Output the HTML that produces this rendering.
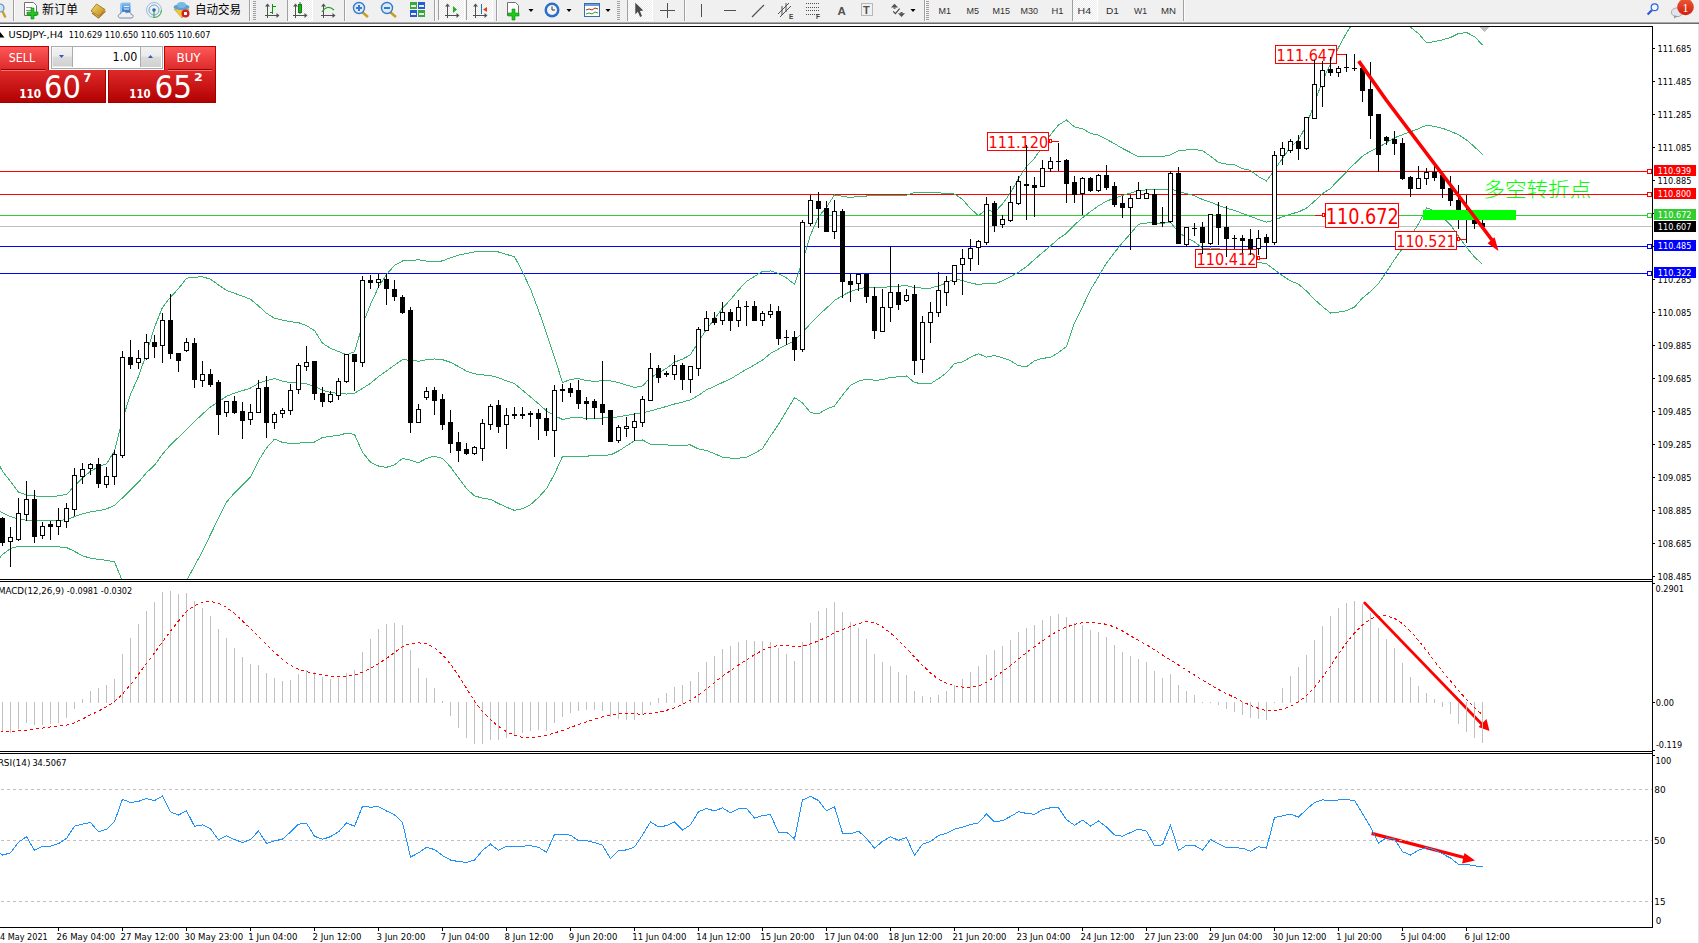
<!DOCTYPE html>
<html><head><meta charset="utf-8"><title>USDJPY,H4</title><style>html,body{margin:0;padding:0;background:#fff;overflow:hidden}body{width:1699px;height:943px}svg{display:block}</style></head><body>
<svg width="1699" height="943" viewBox="0 0 1699 943" font-family="Liberation Sans, sans-serif">
<defs><clipPath id="cmain"><rect x="0" y="27" width="1652" height="552"/></clipPath><clipPath id="cmacd"><rect x="0" y="582" width="1652" height="169"/></clipPath><clipPath id="crsi"><rect x="0" y="754" width="1652" height="173"/></clipPath></defs>
<rect x="0" y="24" width="1699" height="919" fill="#fff" />
<rect x="1698" y="24" width="1" height="919" fill="#e3e3e3" />
<defs><linearGradient id="gsell" x1="0" y1="0" x2="0" y2="1"><stop offset="0" stop-color="#ff5a5a"/><stop offset="1" stop-color="#dc2828"/></linearGradient><linearGradient id="gprice" x1="0" y1="0" x2="0" y2="1"><stop offset="0" stop-color="#e02a2a"/><stop offset="1" stop-color="#b00000"/></linearGradient><linearGradient id="gbtn" x1="0" y1="0" x2="0" y2="1"><stop offset="0" stop-color="#f2f2f2"/><stop offset="0.45" stop-color="#ebebeb"/><stop offset="0.5" stop-color="#dcdcdc"/><stop offset="1" stop-color="#d0d0d0"/></linearGradient><linearGradient id="gblue" x1="0" y1="0" x2="0" y2="1"><stop offset="0" stop-color="#8ec8f0"/><stop offset="1" stop-color="#2a6fc9"/></linearGradient><linearGradient id="ggold" x1="0" y1="0" x2="1" y2="1"><stop offset="0" stop-color="#f8dc6a"/><stop offset="1" stop-color="#b8861a"/></linearGradient><pattern id="chk" x="0" y="0" width="2" height="2" patternUnits="userSpaceOnUse"><rect width="2" height="2" fill="#ececec"/><rect width="1" height="1" fill="#ffffff"/><rect x="1" y="1" width="1" height="1" fill="#ffffff"/></pattern></defs>
<rect x="0" y="0" width="1699" height="22" fill="#f0f0f0" />
<rect x="0" y="22" width="1699" height="1" fill="#a8a8a8" />
<rect x="0" y="23" width="1699" height="1" fill="#6d6d6d" />
<g shape-rendering="crispEdges">
<rect x="13" y="0" width="1" height="21" fill="#a0a0a0" />
<rect x="14" y="0" width="1" height="21" fill="#fcfcfc" />
<rect x="249" y="0" width="1" height="21" fill="#a0a0a0" />
<rect x="250" y="0" width="1" height="21" fill="#fcfcfc" />
<rect x="287" y="0" width="1" height="21" fill="#a0a0a0" />
<rect x="288" y="0" width="1" height="21" fill="#fcfcfc" />
<rect x="344" y="0" width="1" height="21" fill="#a0a0a0" />
<rect x="345" y="0" width="1" height="21" fill="#fcfcfc" />
<rect x="434" y="0" width="1" height="21" fill="#a0a0a0" />
<rect x="435" y="0" width="1" height="21" fill="#fcfcfc" />
<rect x="496" y="0" width="1" height="21" fill="#a0a0a0" />
<rect x="497" y="0" width="1" height="21" fill="#fcfcfc" />
<rect x="627" y="0" width="1" height="21" fill="#a0a0a0" />
<rect x="628" y="0" width="1" height="21" fill="#fcfcfc" />
<rect x="684" y="0" width="1" height="21" fill="#a0a0a0" />
<rect x="685" y="0" width="1" height="21" fill="#fcfcfc" />
<rect x="924" y="0" width="1" height="21" fill="#a0a0a0" />
<rect x="925" y="0" width="1" height="21" fill="#fcfcfc" />
<rect x="1072" y="0" width="1" height="21" fill="#a0a0a0" />
<rect x="1073" y="0" width="1" height="21" fill="#fcfcfc" />
<rect x="1183" y="0" width="1" height="21" fill="#a0a0a0" />
<rect x="1184" y="0" width="1" height="21" fill="#fcfcfc" />
<rect x="288" y="0" width="24" height="20" fill="url(#chk)" />
<rect x="288" y="20" width="25" height="1" fill="#ffffff" />
<rect x="312" y="0" width="1" height="21" fill="#ffffff" />
<rect x="287" y="0" width="1" height="20" fill="#a0a0a0" />
<rect x="439" y="0" width="25" height="20" fill="url(#chk)" />
<rect x="439" y="20" width="26" height="1" fill="#ffffff" />
<rect x="464" y="0" width="1" height="21" fill="#ffffff" />
<rect x="438" y="0" width="1" height="20" fill="#a0a0a0" />
<rect x="467" y="0" width="25" height="20" fill="url(#chk)" />
<rect x="467" y="20" width="26" height="1" fill="#ffffff" />
<rect x="492" y="0" width="1" height="21" fill="#ffffff" />
<rect x="466" y="0" width="1" height="20" fill="#a0a0a0" />
<rect x="628" y="0" width="24" height="20" fill="url(#chk)" />
<rect x="628" y="20" width="25" height="1" fill="#ffffff" />
<rect x="652" y="0" width="1" height="21" fill="#ffffff" />
<rect x="627" y="0" width="1" height="20" fill="#a0a0a0" />
<rect x="1073" y="0" width="24" height="20" fill="url(#chk)" />
<rect x="1073" y="20" width="25" height="1" fill="#ffffff" />
<rect x="1097" y="0" width="1" height="21" fill="#ffffff" />
<rect x="1072" y="0" width="1" height="20" fill="#a0a0a0" />
<rect x="253" y="1" width="3" height="1" fill="#a0a0a0" />
<rect x="253" y="3" width="3" height="1" fill="#a0a0a0" />
<rect x="253" y="5" width="3" height="1" fill="#a0a0a0" />
<rect x="253" y="7" width="3" height="1" fill="#a0a0a0" />
<rect x="253" y="9" width="3" height="1" fill="#a0a0a0" />
<rect x="253" y="11" width="3" height="1" fill="#a0a0a0" />
<rect x="253" y="13" width="3" height="1" fill="#a0a0a0" />
<rect x="253" y="15" width="3" height="1" fill="#a0a0a0" />
<rect x="253" y="17" width="3" height="1" fill="#a0a0a0" />
<rect x="253" y="19" width="3" height="1" fill="#a0a0a0" />
<rect x="617" y="1" width="3" height="1" fill="#a0a0a0" />
<rect x="617" y="3" width="3" height="1" fill="#a0a0a0" />
<rect x="617" y="5" width="3" height="1" fill="#a0a0a0" />
<rect x="617" y="7" width="3" height="1" fill="#a0a0a0" />
<rect x="617" y="9" width="3" height="1" fill="#a0a0a0" />
<rect x="617" y="11" width="3" height="1" fill="#a0a0a0" />
<rect x="617" y="13" width="3" height="1" fill="#a0a0a0" />
<rect x="617" y="15" width="3" height="1" fill="#a0a0a0" />
<rect x="617" y="17" width="3" height="1" fill="#a0a0a0" />
<rect x="617" y="19" width="3" height="1" fill="#a0a0a0" />
<rect x="926" y="1" width="3" height="1" fill="#a0a0a0" />
<rect x="926" y="3" width="3" height="1" fill="#a0a0a0" />
<rect x="926" y="5" width="3" height="1" fill="#a0a0a0" />
<rect x="926" y="7" width="3" height="1" fill="#a0a0a0" />
<rect x="926" y="9" width="3" height="1" fill="#a0a0a0" />
<rect x="926" y="11" width="3" height="1" fill="#a0a0a0" />
<rect x="926" y="13" width="3" height="1" fill="#a0a0a0" />
<rect x="926" y="15" width="3" height="1" fill="#a0a0a0" />
<rect x="926" y="17" width="3" height="1" fill="#a0a0a0" />
<rect x="926" y="19" width="3" height="1" fill="#a0a0a0" />
</g>
<circle cx="0" cy="8" r="4" fill="#cfe3f5" stroke="#5a8fc8" stroke-width="1.2"/>
<line x1="2.5" y1="11.5" x2="5.5" y2="17.5" stroke="#c8a020" stroke-width="2.4"/>
<path d="M24.5,2.5 h9 l3,3 v10 h-12 z" fill="#fff" stroke="#707070" stroke-width="1"/>
<g stroke="#909090" stroke-width="1"><line x1="26" y1="7.5" x2="32" y2="7.5"/><line x1="26" y1="10.5" x2="31" y2="10.5"/></g>
<path d="M31,8 h3 v4 h4 v3 h-4 v4 h-3 v-4 h-4 v-3 h4 z" fill="#1ec81e" stroke="#0a8a0a" stroke-width="0.6"/>
<text x="42" y="14" font-size="12" font-family="Liberation Sans, Noto Sans CJK SC, sans-serif" fill="#000" textLength="36" lengthAdjust="spacingAndGlyphs">新订单</text>
<path d="M91,11 L96.5,4 L105,9.5 L99,16.5 Z" fill="url(#ggold)" stroke="#9a6a10" stroke-width="0.8"/>
<path d="M92,13 L98.5,18 L105.5,11" fill="none" stroke="#a8741a" stroke-width="1.2"/>
<polygon points="120,4 122,2.5 122,12 120,13" fill="#8cc8f8"/>
<rect x="122" y="2.5" width="8.5" height="10" fill="url(#gblue)"/>
<rect x="124" y="6" width="5" height="1" fill="#e8f2fc"/><rect x="124" y="8.5" width="5" height="1" fill="#e8f2fc"/>
<path d="M120.5,18 C117.5,18 117.5,14 120.5,14 C120.5,11 125.5,10.5 126.5,13 C128,11.5 131.5,12.5 131,14.5 C134,14.5 134,18 131,18 Z" fill="#eef2f8" stroke="#6f7f9c" stroke-width="0.9"/>
<circle cx="154" cy="10" r="7.5" fill="none" stroke="#7fb0e0" stroke-width="0.8"/>
<circle cx="154" cy="10" r="5" fill="none" stroke="#4a90d8" stroke-width="0.8"/>
<path d="M154,17.5 A7.5,7.5 0 0 0 161.5,10" fill="none" stroke="#5cb85c" stroke-width="1.2"/>
<circle cx="154" cy="10" r="1.8" fill="#2060c0"/><line x1="154" y1="10" x2="154" y2="18" stroke="#20a020" stroke-width="1"/>
<path d="M174,9 L182,18 L189,9 Z" fill="#f0c830" stroke="#b09020" stroke-width="0.6"/>
<ellipse cx="181.5" cy="7" rx="8" ry="3" fill="#5aa0d8"/><ellipse cx="181.5" cy="5" rx="4.5" ry="3" fill="#7ab8e8"/>
<circle cx="185.5" cy="13.5" r="4" fill="#d42020"/><rect x="184" y="12" width="3" height="3" fill="#fff"/>
<text x="195" y="14" font-size="12" font-family="Liberation Sans, Noto Sans CJK SC, sans-serif" fill="#000" textLength="46" lengthAdjust="spacingAndGlyphs">自动交易</text>
<g stroke="#505050" stroke-width="1" shape-rendering="crispEdges"><line x1="267.5" y1="4" x2="267.5" y2="18"/><line x1="265" y1="15.5" x2="278" y2="15.5"/></g>
<polygon points="267.5,3.5 265,6.5 270,6.5" fill="#505050"/><polygon points="279.5,15.5 276.5,13 276.5,18" fill="#505050"/>
<g stroke="#109010" stroke-width="1" shape-rendering="crispEdges"><line x1="272.5" y1="3.5" x2="272.5" y2="13.5"/><line x1="269.5" y1="12.5" x2="272" y2="12.5"/><line x1="273" y1="6.5" x2="276" y2="6.5"/></g>
<g stroke="#505050" stroke-width="1" shape-rendering="crispEdges"><line x1="295.5" y1="4" x2="295.5" y2="18"/><line x1="293" y1="15.5" x2="306" y2="15.5"/></g>
<polygon points="295.5,3.5 293,6.5 298,6.5" fill="#505050"/><polygon points="307.5,15.5 304.5,13 304.5,18" fill="#505050"/>
<rect x="298.5" y="4.5" width="3" height="8" fill="#30d030" stroke="#108010" stroke-width="1" shape-rendering="crispEdges"/><line x1="300" y1="2" x2="300" y2="14" stroke="#108010" stroke-width="1"/>
<g stroke="#505050" stroke-width="1" shape-rendering="crispEdges"><line x1="323.5" y1="4" x2="323.5" y2="18"/><line x1="321" y1="15.5" x2="334" y2="15.5"/></g>
<polygon points="323.5,3.5 321,6.5 326,6.5" fill="#505050"/><polygon points="335.5,15.5 332.5,13 332.5,18" fill="#505050"/>
<path d="M322,12 Q327,4 334,10" fill="none" stroke="#20a020" stroke-width="1.2"/>
<line x1="362" y1="12" x2="368" y2="17" stroke="#c8a020" stroke-width="2.6"/>
<circle cx="359" cy="8" r="5.5" fill="#d8ecfa" stroke="#3a78c8" stroke-width="1.4"/>
<rect x="356" y="7" width="6" height="2" fill="#3a78c8"/>
<rect x="358" y="5" width="2" height="6" fill="#3a78c8"/>
<line x1="390" y1="12" x2="396" y2="17" stroke="#c8a020" stroke-width="2.6"/>
<circle cx="387" cy="8" r="5.5" fill="#d8ecfa" stroke="#3a78c8" stroke-width="1.4"/>
<rect x="384" y="7" width="6" height="2" fill="#3a78c8"/>
<g shape-rendering="crispEdges"><rect x="410" y="2" width="7" height="7" fill="#3aa83a"/><rect x="418" y="2" width="7" height="7" fill="#2a5ad0"/><rect x="410" y="10" width="7" height="7" fill="#2a5ad0"/><rect x="418" y="10" width="7" height="7" fill="#3aa83a"/><rect x="411" y="5" width="5" height="2" fill="#e8f4e8"/><rect x="419" y="5" width="5" height="2" fill="#e8eef8"/><rect x="411" y="13" width="5" height="2" fill="#e8eef8"/><rect x="419" y="13" width="5" height="2" fill="#e8f4e8"/></g>
<g stroke="#505050" stroke-width="1" shape-rendering="crispEdges"><line x1="447.5" y1="4" x2="447.5" y2="18"/><line x1="445" y1="15.5" x2="458" y2="15.5"/></g>
<polygon points="447.5,3.5 445,6.5 450,6.5" fill="#505050"/><polygon points="459.5,15.5 456.5,13 456.5,18" fill="#505050"/>
<polygon points="453,6 457,9.5 453,13" fill="#20b020"/>
<g stroke="#505050" stroke-width="1" shape-rendering="crispEdges"><line x1="475.5" y1="4" x2="475.5" y2="18"/><line x1="473" y1="15.5" x2="486" y2="15.5"/></g>
<polygon points="475.5,3.5 473,6.5 478,6.5" fill="#505050"/><polygon points="487.5,15.5 484.5,13 484.5,18" fill="#505050"/>
<line x1="481.5" y1="4" x2="481.5" y2="14" stroke="#2070c0" stroke-width="1"/><polygon points="483,9.5 487,7 487,12" fill="#e04010"/>
<path d="M507.5,2.5 h8 l3,3 v10 h-11 z" fill="#fff" stroke="#707070" stroke-width="1"/>
<path d="M512,9 h3 v4 h4 v3 h-4 v4 h-3 v-4 h-4 v-3 h4 z" fill="#1ec81e" stroke="#0a8a0a" stroke-width="0.6"/>
<polygon points="528.5,9 533.5,9 531,12" fill="#000"/>
<polygon points="566.5,9 571.5,9 569,12" fill="#000"/>
<polygon points="605.5,9 610.5,9 608,12" fill="#000"/>
<circle cx="552" cy="10" r="7.5" fill="#2a6fc9"/><circle cx="552" cy="10" r="5" fill="#f4f4f4"/><path d="M552,6.5 V10 H555" fill="none" stroke="#333" stroke-width="1"/>
<rect x="584.5" y="3.5" width="15" height="13" fill="#fff" stroke="#3a6ab0" stroke-width="1"/><rect x="585" y="4" width="14" height="2" fill="#6a9ad8"/>
<polyline points="586,10 589,9 592,10 595,8 598,9" fill="none" stroke="#b03020" stroke-width="1"/><polyline points="586,14 589,13 592,14 595,12 598,13" fill="none" stroke="#30a030" stroke-width="1"/>
<polygon points="635.3,2.8 643.3,10.6 639.9,10.9 642,15.9 640.1,16.9 637.9,11.8 635.3,14.2" fill="#4a4a4a"/>
<g shape-rendering="crispEdges" fill="#505050"><rect x="667" y="3" width="1" height="15"/><rect x="660" y="10" width="15" height="1"/></g>
<g shape-rendering="crispEdges" fill="#505050"><rect x="701" y="4" width="1" height="13"/><rect x="724" y="10" width="12" height="1"/></g>
<line x1="752" y1="17" x2="764" y2="5" stroke="#505050" stroke-width="1.2"/>
<g stroke="#505050" stroke-width="1"><line x1="778" y1="14" x2="789" y2="3"/><line x1="780" y1="17" x2="791" y2="6"/><line x1="782" y1="6" x2="782" y2="15"/><line x1="786" y1="3" x2="786" y2="12"/></g>
<text x="789" y="19" font-size="6.5" font-weight="bold" fill="#404040" font-family="Liberation Sans, sans-serif">E</text>
<g fill="#505050" shape-rendering="crispEdges"><rect x="806" y="3" width="1" height="1"/><rect x="808" y="3" width="1" height="1"/><rect x="810" y="3" width="1" height="1"/><rect x="812" y="3" width="1" height="1"/><rect x="814" y="3" width="1" height="1"/><rect x="816" y="3" width="1" height="1"/><rect x="818" y="3" width="1" height="1"/><rect x="806" y="7" width="1" height="1"/><rect x="808" y="7" width="1" height="1"/><rect x="810" y="7" width="1" height="1"/><rect x="812" y="7" width="1" height="1"/><rect x="814" y="7" width="1" height="1"/><rect x="816" y="7" width="1" height="1"/><rect x="818" y="7" width="1" height="1"/><rect x="806" y="10" width="1" height="1"/><rect x="808" y="10" width="1" height="1"/><rect x="810" y="10" width="1" height="1"/><rect x="812" y="10" width="1" height="1"/><rect x="814" y="10" width="1" height="1"/><rect x="816" y="10" width="1" height="1"/><rect x="818" y="10" width="1" height="1"/><rect x="806" y="14" width="1" height="1"/><rect x="808" y="14" width="1" height="1"/><rect x="810" y="14" width="1" height="1"/><rect x="812" y="14" width="1" height="1"/><rect x="814" y="14" width="1" height="1"/><rect x="816" y="14" width="1" height="1"/><rect x="818" y="14" width="1" height="1"/></g>
<text x="816" y="19" font-size="6.5" font-weight="bold" fill="#404040" font-family="Liberation Sans, sans-serif">F</text>
<text x="837.5" y="15" font-size="11.5" font-weight="bold" fill="#505050" font-family="Liberation Sans, sans-serif">A</text>
<rect x="861.5" y="3.5" width="11" height="12" fill="none" stroke="#808080" stroke-width="1" stroke-dasharray="1,1"/>
<text x="863" y="14" font-size="11" font-weight="bold" fill="#505050" font-family="Liberation Sans, sans-serif">T</text>
<polygon points="894.5,3.8 891,7.6 898,7.6" fill="#505050"/><rect x="893.5" y="7.5" width="2" height="1.3" fill="#505050"/>
<polyline points="893.2,11.3 895.4,13.6 899.6,8.7" fill="none" stroke="#404040" stroke-width="1.1"/>
<polygon points="898,13.2 905,13.2 901.5,17" fill="#505050"/><rect x="900.5" y="12" width="2" height="1.3" fill="#505050"/>
<polygon points="910.5,9 915.5,9 913,12" fill="#000"/>
<text x="938.5" y="14" font-size="9.6" fill="#303030" font-family="Liberation Sans, sans-serif" textLength="12.5" lengthAdjust="spacingAndGlyphs">M1</text>
<text x="966.5" y="14" font-size="9.6" fill="#303030" font-family="Liberation Sans, sans-serif" textLength="12.5" lengthAdjust="spacingAndGlyphs">M5</text>
<text x="992.5" y="14" font-size="9.6" fill="#303030" font-family="Liberation Sans, sans-serif" textLength="17.5" lengthAdjust="spacingAndGlyphs">M15</text>
<text x="1020.5" y="14" font-size="9.6" fill="#303030" font-family="Liberation Sans, sans-serif" textLength="17.5" lengthAdjust="spacingAndGlyphs">M30</text>
<text x="1051.5" y="14" font-size="9.6" fill="#303030" font-family="Liberation Sans, sans-serif" textLength="12.0" lengthAdjust="spacingAndGlyphs">H1</text>
<text x="1077.5" y="14" font-size="9.6" fill="#303030" font-family="Liberation Sans, sans-serif" textLength="13.5" lengthAdjust="spacingAndGlyphs">H4</text>
<text x="1106" y="14" font-size="9.6" fill="#303030" font-family="Liberation Sans, sans-serif" textLength="13" lengthAdjust="spacingAndGlyphs">D1</text>
<text x="1134" y="14" font-size="9.6" fill="#303030" font-family="Liberation Sans, sans-serif" textLength="13" lengthAdjust="spacingAndGlyphs">W1</text>
<text x="1161" y="14" font-size="9.6" fill="#303030" font-family="Liberation Sans, sans-serif" textLength="15" lengthAdjust="spacingAndGlyphs">MN</text>
<circle cx="1654.6" cy="7.3" r="3.4" fill="#f4f4ff" stroke="#2a64d0" stroke-width="1.2"/><line x1="1651.8" y1="10.2" x2="1647.6" y2="14.6" stroke="#2a5cd0" stroke-width="2.2"/>
<ellipse cx="1677" cy="12.3" rx="5.6" ry="4.4" fill="#e2e4ee" stroke="#a0a0a0" stroke-width="0.9"/><polygon points="1674.5,15.5 1674,18.8 1677.5,16" fill="#909090"/>
<defs><linearGradient id="gbadge" x1="0" y1="0" x2="0" y2="1"><stop offset="0" stop-color="#ec5a34"/><stop offset="1" stop-color="#d41c0c"/></linearGradient></defs>
<circle cx="1685.5" cy="7" r="8.3" fill="url(#gbadge)"/>
<text x="1685.6" y="12" font-size="12" fill="#fff" text-anchor="middle" font-family="Liberation Serif, serif">1</text>
<text x="1483.3" y="196.8" fill="#00ff00" font-size="20" font-family="Noto Sans CJK SC, sans-serif" textLength="108" lengthAdjust="spacingAndGlyphs" font-weight="300">多空转折点</text>
<g shape-rendering="crispEdges">
<rect x="0" y="226" width="1652" height="1" fill="#c0c0c0" />
<rect x="0" y="171" width="1647" height="1" fill="#ff0000" />
<rect x="1647.5" y="169.5" width="4" height="4" fill="#fff" stroke="#ff0000" stroke-width="1"/>
<rect x="0" y="194" width="1647" height="1" fill="#ff0000" />
<rect x="1647.5" y="192.5" width="4" height="4" fill="#fff" stroke="#ff0000" stroke-width="1"/>
<rect x="0" y="215" width="1647" height="1" fill="#32cd32" />
<rect x="1647.5" y="213.5" width="4" height="4" fill="#fff" stroke="#32cd32" stroke-width="1"/>
<rect x="0" y="246" width="1647" height="1" fill="#0000ff" />
<rect x="1647.5" y="244.5" width="4" height="4" fill="#fff" stroke="#0000ff" stroke-width="1"/>
<rect x="0" y="273" width="1647" height="1" fill="#0000ff" />
<rect x="1647.5" y="271.5" width="4" height="4" fill="#fff" stroke="#0000ff" stroke-width="1"/>
</g>
<g clip-path="url(#cmain)" shape-rendering="crispEdges">
<polyline points="-5.50,456.40 2.50,471.20 10.50,481.50 18.50,492.00 26.50,495.00 34.50,495.90 42.50,496.50 50.50,496.50 58.50,495.90 66.50,494.40 74.50,486.10 82.50,478.00 90.50,471.20 98.50,466.80 106.50,463.80 114.50,451.00 122.50,419.50 130.50,394.50 138.50,376.50 146.50,353.50 154.50,327.25 162.50,307.36 170.50,297.15 178.50,288.65 186.50,278.21 194.50,277.25 202.50,276.71 210.50,279.27 218.50,284.95 226.50,290.39 234.50,293.28 242.50,296.19 250.50,299.16 258.50,305.91 266.50,313.31 274.50,318.15 282.50,320.10 290.50,321.78 298.50,322.61 306.50,325.69 314.50,330.53 322.50,343.18 330.50,348.35 338.50,351.55 346.50,354.82 354.50,351.86 362.50,324.53 370.50,304.46 378.50,287.14 386.50,274.50 394.50,265.50 402.50,260.98 410.50,260.35 418.50,259.81 426.50,261.11 434.50,261.82 442.50,260.89 450.50,257.73 458.50,255.18 466.50,253.52 474.50,251.86 482.50,251.58 490.50,251.69 498.50,251.98 506.50,254.47 514.50,256.63 522.50,271.95 530.50,289.07 538.50,310.19 546.50,333.16 554.50,357.15 562.50,382.67 570.50,379.33 578.50,378.65 586.50,380.50 594.50,381.35 602.50,380.74 610.50,380.90 618.50,382.47 626.50,385.06 634.50,387.42 642.50,385.86 650.50,377.77 658.50,373.08 666.50,368.24 674.50,362.07 682.50,359.25 690.50,354.63 698.50,341.79 706.50,329.17 714.50,319.05 722.50,307.95 730.50,299.74 738.50,290.00 746.50,281.38 754.50,276.34 762.50,271.49 770.50,270.95 778.50,273.63 786.50,278.00 794.50,284.38 802.50,261.41 810.50,234.83 818.50,216.95 826.50,207.25 834.50,194.90 842.50,196.19 850.50,197.52 858.50,196.19 866.50,196.01 874.50,195.71 882.50,195.71 890.50,195.49 898.50,195.46 906.50,195.27 914.50,192.64 922.50,192.52 930.50,192.52 938.50,192.90 946.50,193.20 954.50,194.10 962.50,199.29 970.50,208.61 978.50,215.61 986.50,209.40 994.50,212.45 1002.50,204.04 1010.50,192.87 1018.50,178.58 1026.50,166.58 1034.50,158.31 1042.50,146.63 1050.50,134.63 1058.50,124.98 1066.50,120.00 1074.50,126.88 1082.50,128.69 1090.50,133.38 1098.50,135.15 1106.50,139.29 1114.50,143.69 1122.50,148.48 1130.50,152.55 1138.50,156.73 1146.50,156.79 1154.50,156.91 1162.50,156.57 1170.50,154.95 1178.50,150.64 1186.50,149.94 1194.50,149.54 1202.50,150.64 1210.50,156.24 1218.50,162.41 1226.50,164.13 1234.50,164.88 1242.50,168.66 1250.50,170.43 1258.50,176.62 1266.50,180.93 1274.50,169.83 1282.50,158.23 1290.50,147.20 1298.50,139.77 1306.50,125.29 1314.50,102.94 1322.50,80.74 1330.50,64.01 1338.50,47.56 1346.50,32.91 1354.50,20.54 1362.50,14.29 1370.50,10.89 1378.50,11.60 1386.50,13.27 1394.50,16.25 1402.50,20.80 1410.50,27.08 1418.50,33.57 1426.50,42.68 1434.50,41.67 1442.50,39.83 1450.50,37.47 1458.50,33.55 1466.50,32.49 1474.50,36.61 1482.50,44.98" fill="none" stroke="#3cb371" stroke-width="1" />
<polyline points="-5.50,508.80 2.50,512.80 10.50,516.60 18.50,519.30 26.50,520.20 34.50,520.80 42.50,520.80 50.50,520.80 58.50,520.50 66.50,519.60 74.50,516.60 82.50,513.70 90.50,511.90 98.50,510.70 106.50,508.90 114.50,505.40 122.50,497.90 130.50,489.90 138.50,482.20 146.50,472.70 154.50,465.25 162.50,454.15 170.50,444.95 178.50,437.30 186.50,429.45 194.50,421.60 202.50,414.00 210.50,406.90 218.50,401.60 226.50,396.25 234.50,393.10 242.50,390.65 250.50,388.07 258.50,383.32 266.50,380.61 274.50,378.63 282.50,381.28 290.50,382.58 298.50,382.93 306.50,383.93 314.50,386.28 322.50,390.33 330.50,392.38 338.50,393.43 346.50,394.03 354.50,393.13 362.50,388.43 370.50,383.33 378.50,376.58 386.50,370.93 394.50,365.13 402.50,359.73 410.50,360.21 418.50,361.25 426.50,359.73 434.50,359.00 442.50,359.68 450.50,362.31 458.50,366.54 466.50,371.07 474.50,373.79 482.50,374.90 490.50,375.52 498.50,377.75 506.50,380.82 514.50,383.52 522.50,390.27 530.50,396.88 538.50,403.81 546.50,410.90 554.50,415.61 562.50,419.51 570.50,418.00 578.50,417.69 586.50,418.27 594.50,418.61 602.50,418.01 610.50,417.91 618.50,416.79 626.50,415.45 634.50,414.13 642.50,412.92 650.50,411.00 658.50,408.57 666.50,406.50 674.50,404.00 682.50,402.18 690.50,399.80 698.50,395.38 706.50,389.81 714.50,386.39 722.50,382.50 730.50,378.90 738.50,374.11 746.50,369.27 754.50,364.92 762.50,359.99 770.50,353.50 778.50,349.03 786.50,344.58 794.50,340.97 802.50,332.12 810.50,323.74 818.50,315.31 826.50,308.16 834.50,300.47 842.50,295.61 850.50,291.48 858.50,288.71 866.50,287.56 874.50,287.99 882.50,287.75 890.50,286.36 898.50,286.19 906.50,285.62 914.50,287.64 922.50,288.09 930.50,288.15 938.50,285.77 946.50,282.98 954.50,278.81 962.50,280.62 970.50,282.98 978.50,284.62 986.50,283.29 994.50,283.96 1002.50,280.86 1010.50,276.79 1018.50,272.17 1026.50,266.65 1034.50,259.49 1042.50,252.53 1050.50,245.97 1058.50,238.82 1066.50,233.22 1074.50,224.93 1082.50,217.73 1090.50,211.62 1098.50,205.88 1106.50,201.16 1114.50,198.09 1122.50,195.52 1130.50,193.05 1138.50,190.45 1146.50,189.91 1154.50,189.87 1162.50,189.99 1170.50,188.53 1178.50,191.59 1186.50,193.68 1194.50,195.75 1202.50,199.45 1210.50,202.12 1218.50,205.42 1226.50,208.21 1234.50,210.43 1242.50,213.49 1250.50,216.37 1258.50,219.53 1266.50,222.26 1274.50,219.83 1282.50,216.91 1290.50,214.07 1298.50,211.97 1306.50,208.16 1314.50,201.19 1322.50,193.62 1330.50,188.54 1338.50,179.81 1346.50,171.81 1354.50,163.80 1362.50,156.15 1370.50,151.19 1378.50,147.53 1386.50,142.59 1394.50,137.80 1402.50,134.72 1410.50,131.76 1418.50,128.72 1426.50,125.22 1434.50,126.28 1442.50,128.28 1450.50,131.19 1458.50,134.79 1466.50,139.90 1474.50,146.84 1482.50,154.65" fill="none" stroke="#3cb371" stroke-width="1" />
<polyline points="-5.50,564.80 2.50,554.40 10.50,548.40 18.50,546.30 26.50,546.30 34.50,546.30 42.50,546.50 50.50,546.50 58.50,546.90 66.50,547.50 74.50,551.40 82.50,555.80 90.50,558.20 98.50,559.40 106.50,560.30 114.50,561.80 122.50,581.50 130.50,590.50 138.50,598.50 146.50,604.50 154.50,603.25 162.50,600.94 170.50,592.75 178.50,585.95 186.50,580.69 194.50,565.95 202.50,551.29 210.50,534.53 218.50,518.25 226.50,502.11 234.50,492.92 242.50,485.11 250.50,476.99 258.50,460.74 266.50,447.90 274.50,439.11 282.50,442.46 290.50,443.38 298.50,443.25 306.50,442.17 314.50,442.03 322.50,437.48 330.50,436.41 338.50,435.31 346.50,433.24 354.50,434.40 362.50,452.33 370.50,462.20 378.50,466.02 386.50,467.36 394.50,464.76 402.50,458.48 410.50,460.06 418.50,462.70 426.50,458.34 434.50,456.18 442.50,458.47 450.50,466.90 458.50,477.90 466.50,488.63 474.50,495.73 482.50,498.23 490.50,499.35 498.50,503.53 506.50,507.18 514.50,510.42 522.50,508.60 530.50,504.68 538.50,497.43 546.50,488.64 554.50,474.08 562.50,456.36 570.50,456.67 578.50,456.73 586.50,456.05 594.50,455.87 602.50,455.28 610.50,454.92 618.50,451.10 626.50,445.84 634.50,440.84 642.50,439.98 650.50,444.24 658.50,444.06 666.50,444.76 674.50,445.93 682.50,445.11 690.50,444.96 698.50,448.97 706.50,450.44 714.50,453.73 722.50,457.05 730.50,458.05 738.50,458.21 746.50,457.16 754.50,453.49 762.50,448.48 770.50,436.05 778.50,424.44 786.50,411.17 794.50,397.55 802.50,402.84 810.50,412.65 818.50,413.68 826.50,409.06 834.50,406.04 842.50,395.02 850.50,385.43 858.50,381.22 866.50,379.12 874.50,380.26 882.50,379.78 890.50,377.24 898.50,376.92 906.50,375.98 914.50,382.63 922.50,383.65 930.50,383.78 938.50,378.63 946.50,372.76 954.50,363.52 962.50,361.94 970.50,357.34 978.50,353.63 986.50,357.19 994.50,355.47 1002.50,357.67 1010.50,360.72 1018.50,365.75 1026.50,366.73 1034.50,360.66 1042.50,358.44 1050.50,357.30 1058.50,352.66 1066.50,346.43 1074.50,322.97 1082.50,306.78 1090.50,289.86 1098.50,276.61 1106.50,263.04 1114.50,252.50 1122.50,242.56 1130.50,233.54 1138.50,224.18 1146.50,223.03 1154.50,222.83 1162.50,223.42 1170.50,222.11 1178.50,232.54 1186.50,237.43 1194.50,241.96 1202.50,248.27 1210.50,247.99 1218.50,248.42 1226.50,252.28 1234.50,255.97 1242.50,258.32 1250.50,262.31 1258.50,262.44 1266.50,263.58 1274.50,269.84 1282.50,275.59 1290.50,280.95 1298.50,284.17 1306.50,291.03 1314.50,299.45 1322.50,306.50 1330.50,313.08 1338.50,312.07 1346.50,310.71 1354.50,307.05 1362.50,298.00 1370.50,291.49 1378.50,283.47 1386.50,271.91 1394.50,259.36 1402.50,248.65 1410.50,236.44 1418.50,223.86 1426.50,207.76 1434.50,210.89 1442.50,216.73 1450.50,224.92 1458.50,236.03 1466.50,247.31 1474.50,257.08 1482.50,264.32" fill="none" stroke="#3cb371" stroke-width="1" />
</g>
<rect x="1275.5" y="45.5" width="61" height="18" fill="#fff" stroke="#ff0000" stroke-width="1" shape-rendering="crispEdges"/>
<text x="1276.64" y="61" font-size="15.84158415841584" fill="#ff0000" textLength="59.59" lengthAdjust="spacingAndGlyphs" font-family="DejaVu Sans Condensed, sans-serif" >111.647</text>
<rect x="1337" y="54" width="9" height="1" fill="#ff0000" shape-rendering="crispEdges"/>
<rect x="987.5" y="132.5" width="61" height="18" fill="#fff" stroke="#ff0000" stroke-width="1" shape-rendering="crispEdges"/>
<text x="988.54" y="148" font-size="15.84158415841584" fill="#ff0000" textLength="59.61" lengthAdjust="spacingAndGlyphs" font-family="DejaVu Sans Condensed, sans-serif" >111.120</text>
<rect x="1049.5" y="139.5" width="2" height="3" fill="#fff" stroke="#ff0000" stroke-width="1" shape-rendering="crispEdges"/>
<rect x="1052" y="141" width="7" height="1" fill="#ff0000" shape-rendering="crispEdges"/>
<rect x="1195.5" y="249.5" width="61" height="18" fill="#fff" stroke="#ff0000" stroke-width="1" shape-rendering="crispEdges"/>
<text x="1196.43" y="265" font-size="15.84158415841584" fill="#ff0000" textLength="60.01" lengthAdjust="spacingAndGlyphs" font-family="DejaVu Sans Condensed, sans-serif" >110.412</text>
<rect x="1257.5" y="256.5" width="2" height="3" fill="#fff" stroke="#ff0000" stroke-width="1" shape-rendering="crispEdges"/>
<rect x="1260" y="258" width="6" height="1" fill="#ff0000" shape-rendering="crispEdges"/>
<rect x="1395.5" y="231.5" width="61" height="18" fill="#fff" stroke="#ff0000" stroke-width="1" shape-rendering="crispEdges"/>
<text x="1396.34" y="247" font-size="15.84158415841584" fill="#ff0000" textLength="59.36" lengthAdjust="spacingAndGlyphs" font-family="DejaVu Sans Condensed, sans-serif" >110.521</text>
<rect x="1457.5" y="237.5" width="2" height="3" fill="#fff" stroke="#ff0000" stroke-width="1" shape-rendering="crispEdges"/>
<rect x="1460" y="239" width="6" height="1" fill="#ff0000" shape-rendering="crispEdges"/>
<rect x="1325.5" y="203.5" width="73" height="24" fill="#fff" stroke="#ff0000" stroke-width="1" shape-rendering="crispEdges"/>
<text x="1325.68" y="224" font-size="21.122112211221122" fill="#ff0000" textLength="73.17" lengthAdjust="spacingAndGlyphs" font-family="DejaVu Sans Condensed, sans-serif" >110.672</text>
<rect x="1322.5" y="213.5" width="2" height="3" fill="#fff" stroke="#ff0000" stroke-width="1" shape-rendering="crispEdges"/>
<rect x="1325" y="215" width="-2" height="1" fill="#ff0000" shape-rendering="crispEdges"/>
<rect x="1315" y="215" width="8" height="1" fill="#ff0000" shape-rendering="crispEdges"/>
<g shape-rendering="crispEdges">
<rect x="2" y="517" width="1" height="29" fill="#000" />
<rect x="0" y="518" width="5" height="25" fill="#000" />
<rect x="10" y="527" width="1" height="40" fill="#000" />
<rect x="8" y="537" width="5" height="5" fill="#000" />
<rect x="9" y="538" width="3" height="3" fill="#fff" />
<rect x="18" y="498" width="1" height="43" fill="#000" />
<rect x="16" y="513" width="5" height="27" fill="#000" />
<rect x="17" y="514" width="3" height="25" fill="#fff" />
<rect x="26" y="481" width="1" height="40" fill="#000" />
<rect x="24" y="499" width="5" height="16" fill="#000" />
<rect x="25" y="500" width="3" height="14" fill="#fff" />
<rect x="34" y="490" width="1" height="53" fill="#000" />
<rect x="32" y="499" width="5" height="38" fill="#000" />
<rect x="42" y="522" width="1" height="17" fill="#000" />
<rect x="40" y="526" width="5" height="10" fill="#000" />
<rect x="41" y="527" width="3" height="8" fill="#fff" />
<rect x="50" y="521" width="1" height="19" fill="#000" />
<rect x="48" y="524" width="5" height="3" fill="#000" />
<rect x="58" y="508" width="1" height="27" fill="#000" />
<rect x="56" y="520" width="5" height="7" fill="#000" />
<rect x="57" y="521" width="3" height="5" fill="#fff" />
<rect x="66" y="503" width="1" height="25" fill="#000" />
<rect x="64" y="508" width="5" height="14" fill="#000" />
<rect x="65" y="509" width="3" height="12" fill="#fff" />
<rect x="74" y="468" width="1" height="48" fill="#000" />
<rect x="72" y="475" width="5" height="35" fill="#000" />
<rect x="73" y="476" width="3" height="33" fill="#fff" />
<rect x="82" y="463" width="1" height="21" fill="#000" />
<rect x="80" y="469" width="5" height="8" fill="#000" />
<rect x="81" y="470" width="3" height="6" fill="#fff" />
<rect x="90" y="463" width="1" height="12" fill="#000" />
<rect x="88" y="464" width="5" height="5" fill="#000" />
<rect x="89" y="465" width="3" height="3" fill="#fff" />
<rect x="98" y="458" width="1" height="30" fill="#000" />
<rect x="96" y="464" width="5" height="20" fill="#000" />
<rect x="106" y="467" width="1" height="21" fill="#000" />
<rect x="104" y="476" width="5" height="9" fill="#000" />
<rect x="105" y="477" width="3" height="7" fill="#fff" />
<rect x="114" y="450" width="1" height="35" fill="#000" />
<rect x="112" y="454" width="5" height="23" fill="#000" />
<rect x="113" y="455" width="3" height="21" fill="#fff" />
<rect x="122" y="351" width="1" height="107" fill="#000" />
<rect x="120" y="357" width="5" height="99" fill="#000" />
<rect x="121" y="358" width="3" height="97" fill="#fff" />
<rect x="130" y="340" width="1" height="29" fill="#000" />
<rect x="128" y="357" width="5" height="8" fill="#000" />
<rect x="138" y="350" width="1" height="19" fill="#000" />
<rect x="136" y="358" width="5" height="5" fill="#000" />
<rect x="137" y="359" width="3" height="3" fill="#fff" />
<rect x="146" y="334" width="1" height="26" fill="#000" />
<rect x="144" y="342" width="5" height="17" fill="#000" />
<rect x="145" y="343" width="3" height="15" fill="#fff" />
<rect x="154" y="335" width="1" height="23" fill="#000" />
<rect x="152" y="342" width="5" height="5" fill="#000" />
<rect x="162" y="313" width="1" height="50" fill="#000" />
<rect x="160" y="320" width="5" height="26" fill="#000" />
<rect x="161" y="321" width="3" height="24" fill="#fff" />
<rect x="170" y="294" width="1" height="65" fill="#000" />
<rect x="168" y="320" width="5" height="34" fill="#000" />
<rect x="178" y="353" width="1" height="19" fill="#000" />
<rect x="176" y="353" width="5" height="8" fill="#000" />
<rect x="186" y="338" width="1" height="14" fill="#000" />
<rect x="184" y="342" width="5" height="9" fill="#000" />
<rect x="185" y="343" width="3" height="7" fill="#fff" />
<rect x="194" y="338" width="1" height="50" fill="#000" />
<rect x="192" y="343" width="5" height="37" fill="#000" />
<rect x="202" y="361" width="1" height="26" fill="#000" />
<rect x="200" y="374" width="5" height="7" fill="#000" />
<rect x="201" y="375" width="3" height="5" fill="#fff" />
<rect x="210" y="369" width="1" height="18" fill="#000" />
<rect x="208" y="374" width="5" height="11" fill="#000" />
<rect x="218" y="380" width="1" height="55" fill="#000" />
<rect x="216" y="382" width="5" height="33" fill="#000" />
<rect x="226" y="401" width="1" height="16" fill="#000" />
<rect x="224" y="401" width="5" height="12" fill="#000" />
<rect x="225" y="402" width="3" height="10" fill="#fff" />
<rect x="234" y="396" width="1" height="18" fill="#000" />
<rect x="232" y="401" width="5" height="12" fill="#000" />
<rect x="242" y="402" width="1" height="37" fill="#000" />
<rect x="240" y="411" width="5" height="10" fill="#000" />
<rect x="250" y="404" width="1" height="21" fill="#000" />
<rect x="248" y="412" width="5" height="8" fill="#000" />
<rect x="249" y="413" width="3" height="6" fill="#fff" />
<rect x="258" y="380" width="1" height="33" fill="#000" />
<rect x="256" y="388" width="5" height="25" fill="#000" />
<rect x="257" y="389" width="3" height="23" fill="#fff" />
<rect x="266" y="376" width="1" height="62" fill="#000" />
<rect x="264" y="387" width="5" height="36" fill="#000" />
<rect x="274" y="412" width="1" height="17" fill="#000" />
<rect x="272" y="414" width="5" height="9" fill="#000" />
<rect x="273" y="415" width="3" height="7" fill="#fff" />
<rect x="282" y="408" width="1" height="10" fill="#000" />
<rect x="280" y="410" width="5" height="4" fill="#000" />
<rect x="281" y="411" width="3" height="2" fill="#fff" />
<rect x="290" y="384" width="1" height="31" fill="#000" />
<rect x="288" y="390" width="5" height="21" fill="#000" />
<rect x="289" y="391" width="3" height="19" fill="#fff" />
<rect x="298" y="363" width="1" height="31" fill="#000" />
<rect x="296" y="365" width="5" height="25" fill="#000" />
<rect x="297" y="366" width="3" height="23" fill="#fff" />
<rect x="306" y="346" width="1" height="25" fill="#000" />
<rect x="304" y="362" width="5" height="5" fill="#000" />
<rect x="305" y="363" width="3" height="3" fill="#fff" />
<rect x="314" y="361" width="1" height="39" fill="#000" />
<rect x="312" y="361" width="5" height="33" fill="#000" />
<rect x="322" y="387" width="1" height="20" fill="#000" />
<rect x="320" y="393" width="5" height="9" fill="#000" />
<rect x="330" y="391" width="1" height="12" fill="#000" />
<rect x="328" y="394" width="5" height="8" fill="#000" />
<rect x="329" y="395" width="3" height="6" fill="#fff" />
<rect x="338" y="378" width="1" height="22" fill="#000" />
<rect x="336" y="381" width="5" height="15" fill="#000" />
<rect x="337" y="382" width="3" height="13" fill="#fff" />
<rect x="346" y="354" width="1" height="29" fill="#000" />
<rect x="344" y="354" width="5" height="28" fill="#000" />
<rect x="345" y="355" width="3" height="26" fill="#fff" />
<rect x="354" y="354" width="1" height="37" fill="#000" />
<rect x="352" y="354" width="5" height="8" fill="#000" />
<rect x="362" y="276" width="1" height="91" fill="#000" />
<rect x="360" y="280" width="5" height="83" fill="#000" />
<rect x="361" y="281" width="3" height="81" fill="#fff" />
<rect x="370" y="275" width="1" height="14" fill="#000" />
<rect x="368" y="280" width="5" height="3" fill="#000" />
<rect x="378" y="274" width="1" height="14" fill="#000" />
<rect x="376" y="279" width="5" height="4" fill="#000" />
<rect x="377" y="280" width="3" height="2" fill="#fff" />
<rect x="386" y="274" width="1" height="31" fill="#000" />
<rect x="384" y="279" width="5" height="10" fill="#000" />
<rect x="394" y="280" width="1" height="21" fill="#000" />
<rect x="392" y="289" width="5" height="8" fill="#000" />
<rect x="402" y="295" width="1" height="19" fill="#000" />
<rect x="400" y="297" width="5" height="16" fill="#000" />
<rect x="410" y="307" width="1" height="126" fill="#000" />
<rect x="408" y="310" width="5" height="113" fill="#000" />
<rect x="418" y="404" width="1" height="19" fill="#000" />
<rect x="416" y="409" width="5" height="14" fill="#000" />
<rect x="417" y="410" width="3" height="12" fill="#fff" />
<rect x="426" y="387" width="1" height="13" fill="#000" />
<rect x="424" y="391" width="5" height="7" fill="#000" />
<rect x="425" y="392" width="3" height="5" fill="#fff" />
<rect x="434" y="387" width="1" height="28" fill="#000" />
<rect x="432" y="390" width="5" height="11" fill="#000" />
<rect x="442" y="394" width="1" height="36" fill="#000" />
<rect x="440" y="399" width="5" height="26" fill="#000" />
<rect x="450" y="410" width="1" height="43" fill="#000" />
<rect x="448" y="422" width="5" height="22" fill="#000" />
<rect x="458" y="432" width="1" height="30" fill="#000" />
<rect x="456" y="442" width="5" height="9" fill="#000" />
<rect x="466" y="443" width="1" height="12" fill="#000" />
<rect x="464" y="449" width="5" height="5" fill="#000" />
<rect x="474" y="446" width="1" height="9" fill="#000" />
<rect x="472" y="447" width="5" height="7" fill="#000" />
<rect x="473" y="448" width="3" height="5" fill="#fff" />
<rect x="482" y="419" width="1" height="42" fill="#000" />
<rect x="480" y="423" width="5" height="26" fill="#000" />
<rect x="481" y="424" width="3" height="24" fill="#fff" />
<rect x="490" y="404" width="1" height="26" fill="#000" />
<rect x="488" y="406" width="5" height="19" fill="#000" />
<rect x="489" y="407" width="3" height="17" fill="#fff" />
<rect x="498" y="400" width="1" height="33" fill="#000" />
<rect x="496" y="405" width="5" height="22" fill="#000" />
<rect x="506" y="408" width="1" height="41" fill="#000" />
<rect x="504" y="415" width="5" height="10" fill="#000" />
<rect x="505" y="416" width="3" height="8" fill="#fff" />
<rect x="514" y="407" width="1" height="12" fill="#000" />
<rect x="512" y="414" width="5" height="2" fill="#000" />
<rect x="522" y="407" width="1" height="12" fill="#000" />
<rect x="520" y="414" width="5" height="2" fill="#000" />
<rect x="530" y="411" width="1" height="16" fill="#000" />
<rect x="528" y="413" width="5" height="2" fill="#000" />
<rect x="538" y="409" width="1" height="31" fill="#000" />
<rect x="536" y="413" width="5" height="6" fill="#000" />
<rect x="546" y="408" width="1" height="28" fill="#000" />
<rect x="544" y="418" width="5" height="13" fill="#000" />
<rect x="554" y="385" width="1" height="72" fill="#000" />
<rect x="552" y="390" width="5" height="41" fill="#000" />
<rect x="553" y="391" width="3" height="39" fill="#fff" />
<rect x="562" y="384" width="1" height="18" fill="#000" />
<rect x="560" y="389" width="5" height="2" fill="#000" />
<rect x="570" y="383" width="1" height="14" fill="#000" />
<rect x="568" y="388" width="5" height="5" fill="#000" />
<rect x="578" y="380" width="1" height="29" fill="#000" />
<rect x="576" y="390" width="5" height="14" fill="#000" />
<rect x="586" y="397" width="1" height="23" fill="#000" />
<rect x="584" y="401" width="5" height="3" fill="#000" />
<rect x="594" y="399" width="1" height="20" fill="#000" />
<rect x="592" y="401" width="5" height="7" fill="#000" />
<rect x="602" y="361" width="1" height="64" fill="#000" />
<rect x="600" y="404" width="5" height="9" fill="#000" />
<rect x="610" y="410" width="1" height="32" fill="#000" />
<rect x="608" y="410" width="5" height="32" fill="#000" />
<rect x="618" y="425" width="1" height="18" fill="#000" />
<rect x="616" y="427" width="5" height="14" fill="#000" />
<rect x="617" y="428" width="3" height="12" fill="#fff" />
<rect x="626" y="417" width="1" height="20" fill="#000" />
<rect x="624" y="426" width="5" height="3" fill="#000" />
<rect x="625" y="427" width="3" height="1" fill="#fff" />
<rect x="634" y="413" width="1" height="28" fill="#000" />
<rect x="632" y="421" width="5" height="7" fill="#000" />
<rect x="633" y="422" width="3" height="5" fill="#fff" />
<rect x="642" y="396" width="1" height="31" fill="#000" />
<rect x="640" y="399" width="5" height="24" fill="#000" />
<rect x="641" y="400" width="3" height="22" fill="#fff" />
<rect x="650" y="353" width="1" height="48" fill="#000" />
<rect x="648" y="368" width="5" height="33" fill="#000" />
<rect x="649" y="369" width="3" height="31" fill="#fff" />
<rect x="658" y="365" width="1" height="18" fill="#000" />
<rect x="656" y="368" width="5" height="10" fill="#000" />
<rect x="666" y="371" width="1" height="6" fill="#000" />
<rect x="664" y="373" width="5" height="2" fill="#000" />
<rect x="674" y="355" width="1" height="25" fill="#000" />
<rect x="672" y="365" width="5" height="10" fill="#000" />
<rect x="673" y="366" width="3" height="8" fill="#fff" />
<rect x="682" y="363" width="1" height="27" fill="#000" />
<rect x="680" y="365" width="5" height="15" fill="#000" />
<rect x="690" y="366" width="1" height="27" fill="#000" />
<rect x="688" y="366" width="5" height="14" fill="#000" />
<rect x="689" y="367" width="3" height="12" fill="#fff" />
<rect x="698" y="327" width="1" height="49" fill="#000" />
<rect x="696" y="329" width="5" height="40" fill="#000" />
<rect x="697" y="330" width="3" height="38" fill="#fff" />
<rect x="706" y="311" width="1" height="20" fill="#000" />
<rect x="704" y="318" width="5" height="13" fill="#000" />
<rect x="705" y="319" width="3" height="11" fill="#fff" />
<rect x="714" y="312" width="1" height="13" fill="#000" />
<rect x="712" y="318" width="5" height="5" fill="#000" />
<rect x="722" y="302" width="1" height="23" fill="#000" />
<rect x="720" y="312" width="5" height="9" fill="#000" />
<rect x="721" y="313" width="3" height="7" fill="#fff" />
<rect x="730" y="309" width="1" height="22" fill="#000" />
<rect x="728" y="312" width="5" height="9" fill="#000" />
<rect x="738" y="300" width="1" height="27" fill="#000" />
<rect x="736" y="307" width="5" height="14" fill="#000" />
<rect x="737" y="308" width="3" height="12" fill="#fff" />
<rect x="746" y="301" width="1" height="25" fill="#000" />
<rect x="744" y="306" width="5" height="1" fill="#000" />
<rect x="754" y="301" width="1" height="20" fill="#000" />
<rect x="752" y="306" width="5" height="15" fill="#000" />
<rect x="762" y="311" width="1" height="15" fill="#000" />
<rect x="760" y="313" width="5" height="8" fill="#000" />
<rect x="761" y="314" width="3" height="6" fill="#fff" />
<rect x="770" y="304" width="1" height="14" fill="#000" />
<rect x="768" y="311" width="5" height="4" fill="#000" />
<rect x="769" y="312" width="3" height="2" fill="#fff" />
<rect x="778" y="306" width="1" height="39" fill="#000" />
<rect x="776" y="311" width="5" height="28" fill="#000" />
<rect x="786" y="330" width="1" height="15" fill="#000" />
<rect x="784" y="337" width="5" height="1" fill="#000" />
<rect x="794" y="331" width="1" height="30" fill="#000" />
<rect x="792" y="337" width="5" height="13" fill="#000" />
<rect x="802" y="220" width="1" height="132" fill="#000" />
<rect x="800" y="222" width="5" height="128" fill="#000" />
<rect x="801" y="223" width="3" height="126" fill="#fff" />
<rect x="810" y="195" width="1" height="31" fill="#000" />
<rect x="808" y="200" width="5" height="24" fill="#000" />
<rect x="809" y="201" width="3" height="22" fill="#fff" />
<rect x="818" y="192" width="1" height="36" fill="#000" />
<rect x="816" y="201" width="5" height="8" fill="#000" />
<rect x="826" y="201" width="1" height="31" fill="#000" />
<rect x="824" y="208" width="5" height="24" fill="#000" />
<rect x="834" y="200" width="1" height="39" fill="#000" />
<rect x="832" y="211" width="5" height="21" fill="#000" />
<rect x="833" y="212" width="3" height="19" fill="#fff" />
<rect x="842" y="209" width="1" height="89" fill="#000" />
<rect x="840" y="211" width="5" height="71" fill="#000" />
<rect x="850" y="274" width="1" height="28" fill="#000" />
<rect x="848" y="281" width="5" height="4" fill="#000" />
<rect x="858" y="274" width="1" height="17" fill="#000" />
<rect x="856" y="274" width="5" height="10" fill="#000" />
<rect x="857" y="275" width="3" height="8" fill="#fff" />
<rect x="866" y="274" width="1" height="29" fill="#000" />
<rect x="864" y="274" width="5" height="23" fill="#000" />
<rect x="874" y="287" width="1" height="52" fill="#000" />
<rect x="872" y="296" width="5" height="35" fill="#000" />
<rect x="882" y="289" width="1" height="43" fill="#000" />
<rect x="880" y="307" width="5" height="25" fill="#000" />
<rect x="881" y="308" width="3" height="23" fill="#fff" />
<rect x="890" y="246" width="1" height="76" fill="#000" />
<rect x="888" y="292" width="5" height="16" fill="#000" />
<rect x="889" y="293" width="3" height="14" fill="#fff" />
<rect x="898" y="284" width="1" height="26" fill="#000" />
<rect x="896" y="292" width="5" height="13" fill="#000" />
<rect x="906" y="289" width="1" height="13" fill="#000" />
<rect x="904" y="295" width="5" height="6" fill="#000" />
<rect x="905" y="296" width="3" height="4" fill="#fff" />
<rect x="914" y="285" width="1" height="90" fill="#000" />
<rect x="912" y="294" width="5" height="67" fill="#000" />
<rect x="922" y="316" width="1" height="57" fill="#000" />
<rect x="920" y="322" width="5" height="38" fill="#000" />
<rect x="921" y="323" width="3" height="36" fill="#fff" />
<rect x="930" y="302" width="1" height="41" fill="#000" />
<rect x="928" y="312" width="5" height="11" fill="#000" />
<rect x="929" y="313" width="3" height="9" fill="#fff" />
<rect x="938" y="272" width="1" height="45" fill="#000" />
<rect x="936" y="290" width="5" height="23" fill="#000" />
<rect x="937" y="291" width="3" height="21" fill="#fff" />
<rect x="946" y="276" width="1" height="30" fill="#000" />
<rect x="944" y="281" width="5" height="12" fill="#000" />
<rect x="945" y="282" width="3" height="10" fill="#fff" />
<rect x="954" y="265" width="1" height="20" fill="#000" />
<rect x="952" y="265" width="5" height="17" fill="#000" />
<rect x="953" y="266" width="3" height="15" fill="#fff" />
<rect x="962" y="249" width="1" height="46" fill="#000" />
<rect x="960" y="258" width="5" height="7" fill="#000" />
<rect x="961" y="259" width="3" height="5" fill="#fff" />
<rect x="970" y="239" width="1" height="32" fill="#000" />
<rect x="968" y="248" width="5" height="11" fill="#000" />
<rect x="969" y="249" width="3" height="9" fill="#fff" />
<rect x="978" y="240" width="1" height="25" fill="#000" />
<rect x="976" y="241" width="5" height="7" fill="#000" />
<rect x="977" y="242" width="3" height="5" fill="#fff" />
<rect x="986" y="197" width="1" height="48" fill="#000" />
<rect x="984" y="204" width="5" height="39" fill="#000" />
<rect x="985" y="205" width="3" height="37" fill="#fff" />
<rect x="994" y="201" width="1" height="31" fill="#000" />
<rect x="992" y="203" width="5" height="23" fill="#000" />
<rect x="1002" y="215" width="1" height="13" fill="#000" />
<rect x="1000" y="219" width="5" height="6" fill="#000" />
<rect x="1001" y="220" width="3" height="4" fill="#fff" />
<rect x="1010" y="186" width="1" height="36" fill="#000" />
<rect x="1008" y="202" width="5" height="19" fill="#000" />
<rect x="1009" y="203" width="3" height="17" fill="#fff" />
<rect x="1018" y="176" width="1" height="29" fill="#000" />
<rect x="1016" y="181" width="5" height="23" fill="#000" />
<rect x="1017" y="182" width="3" height="21" fill="#fff" />
<rect x="1026" y="145" width="1" height="75" fill="#000" />
<rect x="1024" y="184" width="5" height="2" fill="#000" />
<rect x="1034" y="177" width="1" height="40" fill="#000" />
<rect x="1032" y="185" width="5" height="3" fill="#000" />
<rect x="1042" y="160" width="1" height="27" fill="#000" />
<rect x="1040" y="168" width="5" height="19" fill="#000" />
<rect x="1041" y="169" width="3" height="17" fill="#fff" />
<rect x="1050" y="157" width="1" height="15" fill="#000" />
<rect x="1048" y="161" width="5" height="8" fill="#000" />
<rect x="1049" y="162" width="3" height="6" fill="#fff" />
<rect x="1058" y="143" width="1" height="28" fill="#000" />
<rect x="1056" y="161" width="5" height="1" fill="#000" />
<rect x="1066" y="159" width="1" height="44" fill="#000" />
<rect x="1064" y="160" width="5" height="24" fill="#000" />
<rect x="1074" y="176" width="1" height="27" fill="#000" />
<rect x="1072" y="182" width="5" height="13" fill="#000" />
<rect x="1082" y="177" width="1" height="38" fill="#000" />
<rect x="1080" y="178" width="5" height="16" fill="#000" />
<rect x="1081" y="179" width="3" height="14" fill="#fff" />
<rect x="1090" y="177" width="1" height="15" fill="#000" />
<rect x="1088" y="178" width="5" height="13" fill="#000" />
<rect x="1098" y="174" width="1" height="18" fill="#000" />
<rect x="1096" y="175" width="5" height="16" fill="#000" />
<rect x="1097" y="176" width="3" height="14" fill="#fff" />
<rect x="1106" y="165" width="1" height="25" fill="#000" />
<rect x="1104" y="175" width="5" height="13" fill="#000" />
<rect x="1114" y="182" width="1" height="25" fill="#000" />
<rect x="1112" y="186" width="5" height="19" fill="#000" />
<rect x="1122" y="196" width="1" height="22" fill="#000" />
<rect x="1120" y="203" width="5" height="5" fill="#000" />
<rect x="1130" y="195" width="1" height="55" fill="#000" />
<rect x="1128" y="198" width="5" height="10" fill="#000" />
<rect x="1129" y="199" width="3" height="8" fill="#fff" />
<rect x="1138" y="182" width="1" height="17" fill="#000" />
<rect x="1136" y="190" width="5" height="9" fill="#000" />
<rect x="1137" y="191" width="3" height="7" fill="#fff" />
<rect x="1146" y="189" width="1" height="10" fill="#000" />
<rect x="1144" y="193" width="5" height="6" fill="#000" />
<rect x="1145" y="194" width="3" height="4" fill="#fff" />
<rect x="1154" y="189" width="1" height="36" fill="#000" />
<rect x="1152" y="194" width="5" height="31" fill="#000" />
<rect x="1162" y="207" width="1" height="20" fill="#000" />
<rect x="1160" y="222" width="5" height="1" fill="#000" />
<rect x="1170" y="171" width="1" height="52" fill="#000" />
<rect x="1168" y="173" width="5" height="49" fill="#000" />
<rect x="1169" y="174" width="3" height="47" fill="#fff" />
<rect x="1178" y="167" width="1" height="77" fill="#000" />
<rect x="1176" y="173" width="5" height="71" fill="#000" />
<rect x="1186" y="227" width="1" height="20" fill="#000" />
<rect x="1184" y="227" width="5" height="18" fill="#000" />
<rect x="1185" y="228" width="3" height="16" fill="#fff" />
<rect x="1194" y="223" width="1" height="13" fill="#000" />
<rect x="1192" y="228" width="5" height="1" fill="#000" />
<rect x="1202" y="222" width="1" height="32" fill="#000" />
<rect x="1200" y="227" width="5" height="16" fill="#000" />
<rect x="1210" y="214" width="1" height="31" fill="#000" />
<rect x="1208" y="214" width="5" height="30" fill="#000" />
<rect x="1209" y="215" width="3" height="28" fill="#fff" />
<rect x="1218" y="202" width="1" height="43" fill="#000" />
<rect x="1216" y="214" width="5" height="14" fill="#000" />
<rect x="1226" y="206" width="1" height="51" fill="#000" />
<rect x="1224" y="227" width="5" height="12" fill="#000" />
<rect x="1234" y="235" width="1" height="14" fill="#000" />
<rect x="1232" y="238" width="5" height="1" fill="#000" />
<rect x="1242" y="235" width="1" height="18" fill="#000" />
<rect x="1240" y="238" width="5" height="3" fill="#000" />
<rect x="1250" y="229" width="1" height="26" fill="#000" />
<rect x="1248" y="239" width="5" height="10" fill="#000" />
<rect x="1258" y="230" width="1" height="25" fill="#000" />
<rect x="1256" y="238" width="5" height="11" fill="#000" />
<rect x="1257" y="239" width="3" height="9" fill="#fff" />
<rect x="1266" y="234" width="1" height="25" fill="#000" />
<rect x="1264" y="237" width="5" height="6" fill="#000" />
<rect x="1274" y="151" width="1" height="94" fill="#000" />
<rect x="1272" y="155" width="5" height="88" fill="#000" />
<rect x="1273" y="156" width="3" height="86" fill="#fff" />
<rect x="1282" y="142" width="1" height="23" fill="#000" />
<rect x="1280" y="148" width="5" height="8" fill="#000" />
<rect x="1281" y="149" width="3" height="6" fill="#fff" />
<rect x="1290" y="139" width="1" height="14" fill="#000" />
<rect x="1288" y="141" width="5" height="10" fill="#000" />
<rect x="1289" y="142" width="3" height="8" fill="#fff" />
<rect x="1298" y="135" width="1" height="25" fill="#000" />
<rect x="1296" y="141" width="5" height="8" fill="#000" />
<rect x="1306" y="117" width="1" height="33" fill="#000" />
<rect x="1304" y="117" width="5" height="32" fill="#000" />
<rect x="1305" y="118" width="3" height="30" fill="#fff" />
<rect x="1314" y="60" width="1" height="59" fill="#000" />
<rect x="1312" y="84" width="5" height="35" fill="#000" />
<rect x="1313" y="85" width="3" height="33" fill="#fff" />
<rect x="1322" y="61" width="1" height="46" fill="#000" />
<rect x="1320" y="70" width="5" height="17" fill="#000" />
<rect x="1321" y="71" width="3" height="15" fill="#fff" />
<rect x="1330" y="57" width="1" height="19" fill="#000" />
<rect x="1328" y="69" width="5" height="4" fill="#000" />
<rect x="1338" y="66" width="1" height="11" fill="#000" />
<rect x="1336" y="68" width="5" height="5" fill="#000" />
<rect x="1337" y="69" width="3" height="3" fill="#fff" />
<rect x="1346" y="54" width="1" height="18" fill="#000" />
<rect x="1344" y="67" width="5" height="1" fill="#000" />
<rect x="1354" y="54" width="1" height="17" fill="#000" />
<rect x="1352" y="68" width="5" height="1" fill="#000" />
<rect x="1362" y="68" width="1" height="34" fill="#000" />
<rect x="1360" y="68" width="5" height="23" fill="#000" />
<rect x="1370" y="62" width="1" height="77" fill="#000" />
<rect x="1368" y="89" width="5" height="27" fill="#000" />
<rect x="1378" y="114" width="1" height="58" fill="#000" />
<rect x="1376" y="114" width="5" height="41" fill="#000" />
<rect x="1386" y="136" width="1" height="9" fill="#000" />
<rect x="1384" y="137" width="5" height="4" fill="#000" />
<rect x="1394" y="131" width="1" height="24" fill="#000" />
<rect x="1392" y="139" width="5" height="5" fill="#000" />
<rect x="1402" y="138" width="1" height="42" fill="#000" />
<rect x="1400" y="143" width="5" height="36" fill="#000" />
<rect x="1410" y="176" width="1" height="21" fill="#000" />
<rect x="1408" y="177" width="5" height="12" fill="#000" />
<rect x="1418" y="166" width="1" height="23" fill="#000" />
<rect x="1416" y="178" width="5" height="11" fill="#000" />
<rect x="1417" y="179" width="3" height="9" fill="#fff" />
<rect x="1426" y="168" width="1" height="17" fill="#000" />
<rect x="1424" y="172" width="5" height="7" fill="#000" />
<rect x="1425" y="173" width="3" height="5" fill="#fff" />
<rect x="1434" y="166" width="1" height="15" fill="#000" />
<rect x="1432" y="172" width="5" height="6" fill="#000" />
<rect x="1442" y="173" width="1" height="25" fill="#000" />
<rect x="1440" y="175" width="5" height="14" fill="#000" />
<rect x="1450" y="176" width="1" height="30" fill="#000" />
<rect x="1448" y="188" width="5" height="13" fill="#000" />
<rect x="1458" y="185" width="1" height="44" fill="#000" />
<rect x="1456" y="200" width="5" height="20" fill="#000" />
<rect x="1466" y="195" width="1" height="48" fill="#000" />
<rect x="1464" y="219" width="5" height="1" fill="#000" />
<rect x="1474" y="217" width="1" height="12" fill="#000" />
<rect x="1472" y="220" width="5" height="4" fill="#000" />
<rect x="1482" y="219" width="1" height="9" fill="#000" />
<rect x="1480" y="223" width="5" height="4" fill="#000" />
</g>
<rect x="1423" y="210" width="93" height="10" fill="#00ff00" shape-rendering="crispEdges"/>
<polyline points="1358.7,61.1 1386.2,100 1446.7,180 1492,240" fill="none" stroke="#ff0000" stroke-width="3.6" stroke-linecap="butt"/>
<polygon points="1498.5,251 1487.5,243.2 1494.6,237.2" fill="#ff0000"/>
<line x1="1363.9" y1="602.1" x2="1485" y2="727.5" stroke="#ff0000" stroke-width="2.8"/>
<polygon points="1489.5,731 1478.5,727 1486.5,719" fill="#ff0000"/>
<line x1="1371.6" y1="833.4" x2="1468" y2="858.5" stroke="#ff0000" stroke-width="3.2"/>
<polygon points="1475,860.5 1464.5,853 1462,863.5" fill="#ff0000"/>
<g clip-path="url(#cmacd)" shape-rendering="crispEdges">
<rect x="2" y="702" width="1" height="29" fill="#c0c0c0" />
<rect x="10" y="702" width="1" height="31" fill="#c0c0c0" />
<rect x="18" y="702" width="1" height="27" fill="#c0c0c0" />
<rect x="26" y="702" width="1" height="21" fill="#c0c0c0" />
<rect x="34" y="702" width="1" height="23" fill="#c0c0c0" />
<rect x="42" y="702" width="1" height="23" fill="#c0c0c0" />
<rect x="50" y="702" width="1" height="22" fill="#c0c0c0" />
<rect x="58" y="702" width="1" height="21" fill="#c0c0c0" />
<rect x="66" y="702" width="1" height="16" fill="#c0c0c0" />
<rect x="74" y="702" width="1" height="7" fill="#c0c0c0" />
<rect x="82" y="699" width="1" height="4" fill="#c0c0c0" />
<rect x="90" y="691" width="1" height="12" fill="#c0c0c0" />
<rect x="98" y="688" width="1" height="15" fill="#c0c0c0" />
<rect x="106" y="685" width="1" height="18" fill="#c0c0c0" />
<rect x="114" y="679" width="1" height="24" fill="#c0c0c0" />
<rect x="122" y="654" width="1" height="49" fill="#c0c0c0" />
<rect x="130" y="638" width="1" height="65" fill="#c0c0c0" />
<rect x="138" y="624" width="1" height="79" fill="#c0c0c0" />
<rect x="146" y="611" width="1" height="92" fill="#c0c0c0" />
<rect x="154" y="602" width="1" height="101" fill="#c0c0c0" />
<rect x="162" y="592" width="1" height="111" fill="#c0c0c0" />
<rect x="170" y="591" width="1" height="112" fill="#c0c0c0" />
<rect x="178" y="594" width="1" height="109" fill="#c0c0c0" />
<rect x="186" y="593" width="1" height="110" fill="#c0c0c0" />
<rect x="194" y="601" width="1" height="102" fill="#c0c0c0" />
<rect x="202" y="608" width="1" height="95" fill="#c0c0c0" />
<rect x="210" y="616" width="1" height="87" fill="#c0c0c0" />
<rect x="218" y="629" width="1" height="74" fill="#c0c0c0" />
<rect x="226" y="638" width="1" height="65" fill="#c0c0c0" />
<rect x="234" y="648" width="1" height="55" fill="#c0c0c0" />
<rect x="242" y="657" width="1" height="46" fill="#c0c0c0" />
<rect x="250" y="664" width="1" height="39" fill="#c0c0c0" />
<rect x="258" y="665" width="1" height="38" fill="#c0c0c0" />
<rect x="266" y="673" width="1" height="30" fill="#c0c0c0" />
<rect x="274" y="678" width="1" height="25" fill="#c0c0c0" />
<rect x="282" y="681" width="1" height="22" fill="#c0c0c0" />
<rect x="290" y="680" width="1" height="23" fill="#c0c0c0" />
<rect x="298" y="674" width="1" height="29" fill="#c0c0c0" />
<rect x="306" y="670" width="1" height="33" fill="#c0c0c0" />
<rect x="314" y="672" width="1" height="31" fill="#c0c0c0" />
<rect x="322" y="677" width="1" height="26" fill="#c0c0c0" />
<rect x="330" y="679" width="1" height="24" fill="#c0c0c0" />
<rect x="338" y="678" width="1" height="25" fill="#c0c0c0" />
<rect x="346" y="673" width="1" height="30" fill="#c0c0c0" />
<rect x="354" y="670" width="1" height="33" fill="#c0c0c0" />
<rect x="362" y="652" width="1" height="51" fill="#c0c0c0" />
<rect x="370" y="639" width="1" height="64" fill="#c0c0c0" />
<rect x="378" y="629" width="1" height="74" fill="#c0c0c0" />
<rect x="386" y="624" width="1" height="79" fill="#c0c0c0" />
<rect x="394" y="623" width="1" height="80" fill="#c0c0c0" />
<rect x="402" y="625" width="1" height="78" fill="#c0c0c0" />
<rect x="410" y="650" width="1" height="53" fill="#c0c0c0" />
<rect x="418" y="668" width="1" height="35" fill="#c0c0c0" />
<rect x="426" y="678" width="1" height="25" fill="#c0c0c0" />
<rect x="434" y="688" width="1" height="15" fill="#c0c0c0" />
<rect x="442" y="701" width="1" height="2" fill="#c0c0c0" />
<rect x="450" y="702" width="1" height="14" fill="#c0c0c0" />
<rect x="458" y="702" width="1" height="26" fill="#c0c0c0" />
<rect x="466" y="702" width="1" height="36" fill="#c0c0c0" />
<rect x="474" y="702" width="1" height="42" fill="#c0c0c0" />
<rect x="482" y="702" width="1" height="42" fill="#c0c0c0" />
<rect x="490" y="702" width="1" height="38" fill="#c0c0c0" />
<rect x="498" y="702" width="1" height="38" fill="#c0c0c0" />
<rect x="506" y="702" width="1" height="36" fill="#c0c0c0" />
<rect x="514" y="702" width="1" height="33" fill="#c0c0c0" />
<rect x="522" y="702" width="1" height="31" fill="#c0c0c0" />
<rect x="530" y="702" width="1" height="29" fill="#c0c0c0" />
<rect x="538" y="702" width="1" height="28" fill="#c0c0c0" />
<rect x="546" y="702" width="1" height="29" fill="#c0c0c0" />
<rect x="554" y="702" width="1" height="21" fill="#c0c0c0" />
<rect x="562" y="702" width="1" height="15" fill="#c0c0c0" />
<rect x="570" y="702" width="1" height="11" fill="#c0c0c0" />
<rect x="578" y="702" width="1" height="9" fill="#c0c0c0" />
<rect x="586" y="702" width="1" height="8" fill="#c0c0c0" />
<rect x="594" y="702" width="1" height="8" fill="#c0c0c0" />
<rect x="602" y="702" width="1" height="9" fill="#c0c0c0" />
<rect x="610" y="702" width="1" height="15" fill="#c0c0c0" />
<rect x="618" y="702" width="1" height="17" fill="#c0c0c0" />
<rect x="626" y="702" width="1" height="18" fill="#c0c0c0" />
<rect x="634" y="702" width="1" height="18" fill="#c0c0c0" />
<rect x="642" y="702" width="1" height="13" fill="#c0c0c0" />
<rect x="650" y="702" width="1" height="3" fill="#c0c0c0" />
<rect x="658" y="698" width="1" height="5" fill="#c0c0c0" />
<rect x="666" y="693" width="1" height="10" fill="#c0c0c0" />
<rect x="674" y="687" width="1" height="16" fill="#c0c0c0" />
<rect x="682" y="685" width="1" height="18" fill="#c0c0c0" />
<rect x="690" y="681" width="1" height="22" fill="#c0c0c0" />
<rect x="698" y="672" width="1" height="31" fill="#c0c0c0" />
<rect x="706" y="662" width="1" height="41" fill="#c0c0c0" />
<rect x="714" y="656" width="1" height="47" fill="#c0c0c0" />
<rect x="722" y="649" width="1" height="54" fill="#c0c0c0" />
<rect x="730" y="646" width="1" height="57" fill="#c0c0c0" />
<rect x="738" y="642" width="1" height="61" fill="#c0c0c0" />
<rect x="746" y="640" width="1" height="63" fill="#c0c0c0" />
<rect x="754" y="641" width="1" height="62" fill="#c0c0c0" />
<rect x="762" y="641" width="1" height="62" fill="#c0c0c0" />
<rect x="770" y="642" width="1" height="61" fill="#c0c0c0" />
<rect x="778" y="648" width="1" height="55" fill="#c0c0c0" />
<rect x="786" y="654" width="1" height="49" fill="#c0c0c0" />
<rect x="794" y="661" width="1" height="42" fill="#c0c0c0" />
<rect x="802" y="642" width="1" height="61" fill="#c0c0c0" />
<rect x="810" y="623" width="1" height="80" fill="#c0c0c0" />
<rect x="818" y="611" width="1" height="92" fill="#c0c0c0" />
<rect x="826" y="608" width="1" height="95" fill="#c0c0c0" />
<rect x="834" y="602" width="1" height="101" fill="#c0c0c0" />
<rect x="842" y="612" width="1" height="91" fill="#c0c0c0" />
<rect x="850" y="622" width="1" height="81" fill="#c0c0c0" />
<rect x="858" y="628" width="1" height="75" fill="#c0c0c0" />
<rect x="866" y="639" width="1" height="64" fill="#c0c0c0" />
<rect x="874" y="654" width="1" height="49" fill="#c0c0c0" />
<rect x="882" y="662" width="1" height="41" fill="#c0c0c0" />
<rect x="890" y="666" width="1" height="37" fill="#c0c0c0" />
<rect x="898" y="672" width="1" height="31" fill="#c0c0c0" />
<rect x="906" y="675" width="1" height="28" fill="#c0c0c0" />
<rect x="914" y="691" width="1" height="12" fill="#c0c0c0" />
<rect x="922" y="696" width="1" height="7" fill="#c0c0c0" />
<rect x="930" y="697" width="1" height="6" fill="#c0c0c0" />
<rect x="938" y="695" width="1" height="8" fill="#c0c0c0" />
<rect x="946" y="691" width="1" height="12" fill="#c0c0c0" />
<rect x="954" y="685" width="1" height="18" fill="#c0c0c0" />
<rect x="962" y="679" width="1" height="24" fill="#c0c0c0" />
<rect x="970" y="672" width="1" height="31" fill="#c0c0c0" />
<rect x="978" y="666" width="1" height="37" fill="#c0c0c0" />
<rect x="986" y="655" width="1" height="48" fill="#c0c0c0" />
<rect x="994" y="650" width="1" height="53" fill="#c0c0c0" />
<rect x="1002" y="646" width="1" height="57" fill="#c0c0c0" />
<rect x="1010" y="640" width="1" height="63" fill="#c0c0c0" />
<rect x="1018" y="632" width="1" height="71" fill="#c0c0c0" />
<rect x="1026" y="628" width="1" height="75" fill="#c0c0c0" />
<rect x="1034" y="625" width="1" height="78" fill="#c0c0c0" />
<rect x="1042" y="620" width="1" height="83" fill="#c0c0c0" />
<rect x="1050" y="616" width="1" height="87" fill="#c0c0c0" />
<rect x="1058" y="614" width="1" height="89" fill="#c0c0c0" />
<rect x="1066" y="617" width="1" height="86" fill="#c0c0c0" />
<rect x="1074" y="623" width="1" height="80" fill="#c0c0c0" />
<rect x="1082" y="625" width="1" height="78" fill="#c0c0c0" />
<rect x="1090" y="630" width="1" height="73" fill="#c0c0c0" />
<rect x="1098" y="632" width="1" height="71" fill="#c0c0c0" />
<rect x="1106" y="637" width="1" height="66" fill="#c0c0c0" />
<rect x="1114" y="645" width="1" height="58" fill="#c0c0c0" />
<rect x="1122" y="652" width="1" height="51" fill="#c0c0c0" />
<rect x="1130" y="656" width="1" height="47" fill="#c0c0c0" />
<rect x="1138" y="659" width="1" height="44" fill="#c0c0c0" />
<rect x="1146" y="662" width="1" height="41" fill="#c0c0c0" />
<rect x="1154" y="671" width="1" height="32" fill="#c0c0c0" />
<rect x="1162" y="678" width="1" height="25" fill="#c0c0c0" />
<rect x="1170" y="674" width="1" height="29" fill="#c0c0c0" />
<rect x="1178" y="685" width="1" height="18" fill="#c0c0c0" />
<rect x="1186" y="691" width="1" height="12" fill="#c0c0c0" />
<rect x="1194" y="695" width="1" height="8" fill="#c0c0c0" />
<rect x="1202" y="702" width="1" height="1" fill="#c0c0c0" />
<rect x="1210" y="702" width="1" height="1" fill="#c0c0c0" />
<rect x="1218" y="702" width="1" height="3" fill="#c0c0c0" />
<rect x="1226" y="702" width="1" height="7" fill="#c0c0c0" />
<rect x="1234" y="702" width="1" height="10" fill="#c0c0c0" />
<rect x="1242" y="702" width="1" height="13" fill="#c0c0c0" />
<rect x="1250" y="702" width="1" height="16" fill="#c0c0c0" />
<rect x="1258" y="702" width="1" height="17" fill="#c0c0c0" />
<rect x="1266" y="702" width="1" height="18" fill="#c0c0c0" />
<rect x="1274" y="702" width="1" height="1" fill="#c0c0c0" />
<rect x="1282" y="688" width="1" height="15" fill="#c0c0c0" />
<rect x="1290" y="676" width="1" height="27" fill="#c0c0c0" />
<rect x="1298" y="667" width="1" height="36" fill="#c0c0c0" />
<rect x="1306" y="655" width="1" height="48" fill="#c0c0c0" />
<rect x="1314" y="640" width="1" height="63" fill="#c0c0c0" />
<rect x="1322" y="626" width="1" height="77" fill="#c0c0c0" />
<rect x="1330" y="616" width="1" height="87" fill="#c0c0c0" />
<rect x="1338" y="608" width="1" height="95" fill="#c0c0c0" />
<rect x="1346" y="603" width="1" height="100" fill="#c0c0c0" />
<rect x="1354" y="601" width="1" height="102" fill="#c0c0c0" />
<rect x="1362" y="604" width="1" height="99" fill="#c0c0c0" />
<rect x="1370" y="613" width="1" height="90" fill="#c0c0c0" />
<rect x="1378" y="628" width="1" height="75" fill="#c0c0c0" />
<rect x="1386" y="639" width="1" height="64" fill="#c0c0c0" />
<rect x="1394" y="648" width="1" height="55" fill="#c0c0c0" />
<rect x="1402" y="663" width="1" height="40" fill="#c0c0c0" />
<rect x="1410" y="677" width="1" height="26" fill="#c0c0c0" />
<rect x="1418" y="686" width="1" height="17" fill="#c0c0c0" />
<rect x="1426" y="693" width="1" height="10" fill="#c0c0c0" />
<rect x="1434" y="699" width="1" height="4" fill="#c0c0c0" />
<rect x="1442" y="702" width="1" height="5" fill="#c0c0c0" />
<rect x="1450" y="702" width="1" height="12" fill="#c0c0c0" />
<rect x="1458" y="702" width="1" height="22" fill="#c0c0c0" />
<rect x="1466" y="702" width="1" height="30" fill="#c0c0c0" />
<rect x="1474" y="702" width="1" height="36" fill="#c0c0c0" />
<rect x="1482" y="702" width="1" height="41" fill="#c0c0c0" />
<polyline points="-5.50,732.50 2.50,731.90 10.50,731.30 18.50,730.80 26.50,730.20 34.50,729.10 42.50,728.10 50.50,727.00 58.50,726.00 66.50,725.25 74.50,722.73 82.50,719.03 90.50,714.86 98.50,711.11 106.50,706.75 114.50,701.70 122.50,694.05 130.50,684.72 138.50,674.31 146.50,663.56 154.50,652.88 162.50,641.91 170.50,631.15 178.50,620.99 186.50,611.49 194.50,605.57 202.50,602.26 210.50,601.38 218.50,603.42 226.50,607.36 234.50,613.55 242.50,620.89 250.50,628.72 258.50,636.71 266.50,644.65 274.50,652.42 282.50,659.65 290.50,665.28 298.50,669.32 306.50,671.77 314.50,673.44 322.50,674.83 330.50,676.37 338.50,676.98 346.50,676.41 354.50,675.20 362.50,672.14 370.50,668.26 378.50,663.79 386.50,658.42 394.50,652.41 402.50,646.47 410.50,643.36 418.50,642.80 426.50,643.70 434.50,647.72 442.50,654.60 450.50,664.13 458.50,675.58 466.50,688.31 474.50,701.41 482.50,711.72 490.50,719.63 498.50,726.40 506.50,731.76 514.50,735.44 522.50,737.34 530.50,737.66 538.50,736.73 546.50,735.23 554.50,732.96 562.50,730.47 570.50,727.46 578.50,724.54 586.50,721.73 594.50,719.12 602.50,716.84 610.50,715.39 618.50,714.05 626.50,713.65 634.50,713.90 642.50,714.12 650.50,713.39 658.50,712.14 666.50,710.32 674.50,707.79 682.50,704.38 690.50,700.35 698.50,695.10 706.50,688.81 714.50,682.35 722.50,676.29 730.50,670.58 738.50,665.00 746.50,659.76 754.50,654.84 762.50,650.37 770.50,647.05 778.50,645.50 786.50,645.27 794.50,646.54 802.50,646.04 810.50,643.94 818.50,640.82 826.50,637.13 834.50,632.75 842.50,629.46 850.50,626.53 858.50,623.71 866.50,621.24 874.50,622.60 882.50,626.94 890.50,633.03 898.50,640.19 906.50,648.34 914.50,657.07 922.50,665.27 930.50,672.96 938.50,679.20 946.50,683.27 954.50,685.76 962.50,687.15 970.50,687.19 978.50,686.23 986.50,682.24 994.50,677.21 1002.50,671.51 1010.50,665.47 1018.50,658.97 1026.50,652.62 1034.50,646.64 1042.50,640.86 1050.50,635.25 1058.50,630.67 1066.50,626.97 1074.50,624.38 1082.50,622.71 1090.50,622.50 1098.50,623.03 1106.50,624.34 1114.50,627.04 1122.50,631.03 1130.50,635.79 1138.50,640.44 1146.50,644.77 1154.50,649.83 1162.50,655.08 1170.50,659.70 1178.50,665.02 1186.50,670.14 1194.50,674.99 1202.50,680.07 1210.50,684.85 1218.50,689.52 1226.50,693.65 1234.50,697.35 1242.50,701.77 1250.50,705.35 1258.50,708.36 1266.50,710.95 1274.50,710.97 1282.50,709.44 1290.50,706.30 1298.50,701.79 1306.50,695.61 1314.50,687.44 1322.50,677.31 1330.50,666.00 1338.50,653.74 1346.50,642.75 1354.50,633.06 1362.50,625.12 1370.50,619.06 1378.50,616.06 1386.50,615.90 1394.50,618.36 1402.50,623.58 1410.50,631.21 1418.50,640.42 1426.50,650.63 1434.50,661.13 1442.50,671.44 1450.50,680.89 1458.50,690.29 1466.50,699.49 1474.50,707.72 1482.50,714.95" fill="none" stroke="#ff0000" stroke-width="1" stroke-dasharray="3,3"/>
</g>
<g shape-rendering="crispEdges">
<line x1="1" y1="789.5" x2="1652" y2="789.5" stroke="#c0c0c0" stroke-width="1" stroke-dasharray="3,3"/>
<line x1="1" y1="840.5" x2="1652" y2="840.5" stroke="#c0c0c0" stroke-width="1" stroke-dasharray="3,3"/>
<line x1="1" y1="901.5" x2="1652" y2="901.5" stroke="#c0c0c0" stroke-width="1" stroke-dasharray="3,3"/>
</g>
<g clip-path="url(#crsi)" shape-rendering="crispEdges">
<polyline points="-5.50,847.30 2.50,855.19 10.50,852.83 18.50,842.24 26.50,836.69 34.50,850.35 42.50,846.27 50.50,846.27 58.50,843.64 66.50,838.46 74.50,826.15 82.50,824.16 90.50,822.46 98.50,831.90 106.50,829.22 114.50,821.38 122.50,799.26 130.50,802.46 138.50,801.38 146.50,798.54 154.50,800.62 162.50,795.98 170.50,811.90 178.50,815.01 186.50,810.81 194.50,826.26 202.50,824.89 210.50,828.89 218.50,839.89 226.50,835.62 234.50,839.57 242.50,842.43 250.50,839.60 258.50,830.95 266.50,843.39 274.50,840.83 282.50,839.17 290.50,832.03 298.50,824.14 306.50,823.24 314.50,836.26 322.50,839.31 330.50,836.69 338.50,831.91 346.50,823.02 354.50,826.23 362.50,806.30 370.50,807.18 378.50,806.57 386.50,810.95 394.50,814.86 402.50,822.42 410.50,857.06 418.50,852.88 426.50,847.26 434.50,849.61 442.50,855.56 450.50,860.02 458.50,861.59 466.50,862.35 474.50,860.11 482.50,850.34 490.50,844.12 498.50,850.21 506.50,846.31 514.50,846.16 522.50,846.16 530.50,845.71 538.50,847.25 546.50,852.24 554.50,834.50 562.50,834.38 570.50,835.20 578.50,840.60 586.50,840.55 594.50,842.62 602.50,845.20 610.50,858.52 618.50,850.51 626.50,849.93 634.50,846.94 642.50,835.00 650.50,821.85 658.50,826.94 666.50,825.70 674.50,821.97 682.50,830.18 690.50,824.82 698.50,811.75 706.50,808.51 714.50,810.87 722.50,807.85 730.50,812.84 738.50,808.69 746.50,808.36 754.50,818.01 762.50,815.42 770.50,814.63 778.50,832.41 786.50,832.06 794.50,839.02 802.50,800.01 810.50,796.44 818.50,800.47 826.50,810.95 834.50,806.88 842.50,833.04 850.50,833.78 858.50,831.12 866.50,838.19 874.50,848.31 882.50,841.24 890.50,836.78 898.50,840.34 906.50,837.62 914.50,855.45 922.50,844.17 930.50,841.49 938.50,835.50 946.50,833.22 954.50,829.05 962.50,827.28 970.50,824.47 978.50,822.86 986.50,813.96 994.50,822.00 1002.50,820.65 1010.50,816.53 1018.50,811.69 1026.50,813.45 1034.50,814.26 1042.50,809.64 1050.50,807.78 1058.50,807.78 1066.50,819.63 1074.50,825.26 1082.50,820.12 1090.50,826.00 1098.50,821.05 1106.50,826.98 1114.50,834.87 1122.50,836.24 1130.50,832.54 1138.50,829.08 1146.50,831.14 1154.50,845.83 1162.50,844.79 1170.50,824.97 1178.50,850.55 1186.50,845.09 1194.50,845.44 1202.50,850.04 1210.50,839.50 1218.50,843.87 1226.50,847.78 1234.50,847.78 1242.50,848.18 1250.50,851.21 1258.50,846.82 1266.50,848.11 1274.50,817.62 1282.50,815.86 1290.50,814.09 1298.50,817.11 1306.50,809.40 1314.50,802.55 1322.50,799.89 1330.50,800.69 1338.50,799.94 1346.50,799.75 1354.50,800.33 1362.50,813.62 1370.50,826.84 1378.50,842.99 1386.50,837.75 1394.50,839.02 1402.50,851.70 1410.50,854.99 1418.50,850.26 1426.50,847.68 1434.50,849.56 1442.50,853.92 1450.50,857.96 1458.50,864.46 1466.50,864.46 1474.50,865.80 1482.50,866.81" fill="none" stroke="#1e90ff" stroke-width="1" />
</g>
<g shape-rendering="crispEdges">
<rect x="0" y="26" width="1653" height="1" fill="#000" />
<rect x="0" y="579" width="1653" height="1" fill="#000" />
<rect x="0" y="581" width="1653" height="1" fill="#000" />
<rect x="0" y="751" width="1653" height="1" fill="#000" />
<rect x="0" y="753" width="1653" height="1" fill="#000" />
<rect x="0" y="927" width="1653" height="1" fill="#000" />
<rect x="1652" y="26" width="1" height="902" fill="#000" />
<polygon points="1480,27 1489.5,27 1484.75,32" fill="#c0c0c0"/>
</g>
<g shape-rendering="crispEdges">
<rect x="1653" y="48" width="2" height="1" fill="#000" />
<rect x="1653" y="81" width="2" height="1" fill="#000" />
<rect x="1653" y="114" width="2" height="1" fill="#000" />
<rect x="1653" y="147" width="2" height="1" fill="#000" />
<rect x="1653" y="180" width="2" height="1" fill="#000" />
<rect x="1653" y="213" width="2" height="1" fill="#000" />
<rect x="1653" y="246" width="2" height="1" fill="#000" />
<rect x="1653" y="279" width="2" height="1" fill="#000" />
<rect x="1653" y="312" width="2" height="1" fill="#000" />
<rect x="1653" y="345" width="2" height="1" fill="#000" />
<rect x="1653" y="378" width="2" height="1" fill="#000" />
<rect x="1653" y="411" width="2" height="1" fill="#000" />
<rect x="1653" y="444" width="2" height="1" fill="#000" />
<rect x="1653" y="477" width="2" height="1" fill="#000" />
<rect x="1653" y="510" width="2" height="1" fill="#000" />
<rect x="1653" y="543" width="2" height="1" fill="#000" />
<rect x="1653" y="576" width="2" height="1" fill="#000" />
</g>
<text x="1657.61" y="52" font-size="9.3" fill="#000" textLength="33.89" lengthAdjust="spacingAndGlyphs" font-family="DejaVu Sans Condensed, sans-serif" >111.685</text>
<text x="1657.61" y="85" font-size="9.3" fill="#000" textLength="33.89" lengthAdjust="spacingAndGlyphs" font-family="DejaVu Sans Condensed, sans-serif" >111.485</text>
<text x="1657.61" y="118" font-size="9.3" fill="#000" textLength="33.89" lengthAdjust="spacingAndGlyphs" font-family="DejaVu Sans Condensed, sans-serif" >111.285</text>
<text x="1657.61" y="151" font-size="9.3" fill="#000" textLength="33.89" lengthAdjust="spacingAndGlyphs" font-family="DejaVu Sans Condensed, sans-serif" >111.085</text>
<text x="1657.61" y="184" font-size="9.3" fill="#000" textLength="33.89" lengthAdjust="spacingAndGlyphs" font-family="DejaVu Sans Condensed, sans-serif" >110.885</text>
<text x="1657.61" y="283" font-size="9.3" fill="#000" textLength="33.89" lengthAdjust="spacingAndGlyphs" font-family="DejaVu Sans Condensed, sans-serif" >110.285</text>
<text x="1657.61" y="316" font-size="9.3" fill="#000" textLength="33.89" lengthAdjust="spacingAndGlyphs" font-family="DejaVu Sans Condensed, sans-serif" >110.085</text>
<text x="1657.61" y="349" font-size="9.3" fill="#000" textLength="33.89" lengthAdjust="spacingAndGlyphs" font-family="DejaVu Sans Condensed, sans-serif" >109.885</text>
<text x="1657.61" y="382" font-size="9.3" fill="#000" textLength="33.89" lengthAdjust="spacingAndGlyphs" font-family="DejaVu Sans Condensed, sans-serif" >109.685</text>
<text x="1657.61" y="415" font-size="9.3" fill="#000" textLength="33.89" lengthAdjust="spacingAndGlyphs" font-family="DejaVu Sans Condensed, sans-serif" >109.485</text>
<text x="1657.61" y="448" font-size="9.3" fill="#000" textLength="33.89" lengthAdjust="spacingAndGlyphs" font-family="DejaVu Sans Condensed, sans-serif" >109.285</text>
<text x="1657.61" y="481" font-size="9.3" fill="#000" textLength="33.89" lengthAdjust="spacingAndGlyphs" font-family="DejaVu Sans Condensed, sans-serif" >109.085</text>
<text x="1657.61" y="514" font-size="9.3" fill="#000" textLength="33.89" lengthAdjust="spacingAndGlyphs" font-family="DejaVu Sans Condensed, sans-serif" >108.885</text>
<text x="1657.61" y="547" font-size="9.3" fill="#000" textLength="33.89" lengthAdjust="spacingAndGlyphs" font-family="DejaVu Sans Condensed, sans-serif" >108.685</text>
<text x="1657.61" y="580" font-size="9.3" fill="#000" textLength="33.89" lengthAdjust="spacingAndGlyphs" font-family="DejaVu Sans Condensed, sans-serif" >108.485</text>
<rect x="1654" y="165" width="42" height="11" fill="#ff0000" shape-rendering="crispEdges"/>
<text x="1657.82" y="174" font-size="9.3" fill="#fff" textLength="33.43" lengthAdjust="spacingAndGlyphs" font-family="DejaVu Sans Condensed, sans-serif" >110.939</text>
<rect x="1654" y="188" width="42" height="11" fill="#ff0000" shape-rendering="crispEdges"/>
<text x="1657.82" y="197" font-size="9.3" fill="#fff" textLength="33.41" lengthAdjust="spacingAndGlyphs" font-family="DejaVu Sans Condensed, sans-serif" >110.800</text>
<rect x="1654" y="209" width="42" height="11" fill="#32cd32" shape-rendering="crispEdges"/>
<text x="1657.82" y="218" font-size="9.3" fill="#fff" textLength="33.69" lengthAdjust="spacingAndGlyphs" font-family="DejaVu Sans Condensed, sans-serif" >110.672</text>
<rect x="1654" y="221" width="42" height="11" fill="#000000" shape-rendering="crispEdges"/>
<text x="1657.82" y="230" font-size="9.3" fill="#fff" textLength="33.57" lengthAdjust="spacingAndGlyphs" font-family="DejaVu Sans Condensed, sans-serif" >110.607</text>
<rect x="1654" y="240" width="42" height="11" fill="#0000ff" shape-rendering="crispEdges"/>
<text x="1657.82" y="249" font-size="9.3" fill="#fff" textLength="33.57" lengthAdjust="spacingAndGlyphs" font-family="DejaVu Sans Condensed, sans-serif" >110.485</text>
<rect x="1654" y="267" width="42" height="11" fill="#0000ff" shape-rendering="crispEdges"/>
<text x="1657.82" y="276" font-size="9.3" fill="#fff" textLength="33.69" lengthAdjust="spacingAndGlyphs" font-family="DejaVu Sans Condensed, sans-serif" >110.322</text>
<g shape-rendering="crispEdges">
<rect x="1653" y="583" width="2" height="1" fill="#000" />
<rect x="1653" y="702" width="2" height="1" fill="#000" />
<rect x="1653" y="750" width="2" height="1" fill="#000" />
<rect x="1653" y="755" width="2" height="1" fill="#000" />
</g>
<text x="1655.45" y="592" font-size="9.3" fill="#000" textLength="28.59" lengthAdjust="spacingAndGlyphs" font-family="DejaVu Sans Condensed, sans-serif" >0.2901</text>
<text x="1655.75" y="706" font-size="9.3" fill="#000" textLength="18.30" lengthAdjust="spacingAndGlyphs" font-family="DejaVu Sans Condensed, sans-serif" >0.00</text>
<text x="1655.92" y="748" font-size="9.3" fill="#000" textLength="26.25" lengthAdjust="spacingAndGlyphs" font-family="DejaVu Sans Condensed, sans-serif" >-0.119</text>
<text x="1655.49" y="764" font-size="9.3" fill="#000" textLength="15.96" lengthAdjust="spacingAndGlyphs" font-family="DejaVu Sans Condensed, sans-serif" >100</text>
<text x="1654.20" y="793" font-size="9.3" fill="#000" textLength="11.39" lengthAdjust="spacingAndGlyphs" font-family="DejaVu Sans Condensed, sans-serif" >80</text>
<text x="1654.11" y="844" font-size="9.3" fill="#000" textLength="11.28" lengthAdjust="spacingAndGlyphs" font-family="DejaVu Sans Condensed, sans-serif" >50</text>
<text x="1654.35" y="905" font-size="9.3" fill="#000" textLength="11.21" lengthAdjust="spacingAndGlyphs" font-family="DejaVu Sans Condensed, sans-serif" >15</text>
<text x="1655.82" y="924" font-size="9.3" fill="#000" textLength="5.56" lengthAdjust="spacingAndGlyphs" font-family="DejaVu Sans Condensed, sans-serif" >0</text>
<g shape-rendering="crispEdges">
<rect x="58" y="928" width="1" height="3" fill="#000" />
<rect x="122" y="928" width="1" height="3" fill="#000" />
<rect x="186" y="928" width="1" height="3" fill="#000" />
<rect x="250" y="928" width="1" height="3" fill="#000" />
<rect x="314" y="928" width="1" height="3" fill="#000" />
<rect x="378" y="928" width="1" height="3" fill="#000" />
<rect x="442" y="928" width="1" height="3" fill="#000" />
<rect x="506" y="928" width="1" height="3" fill="#000" />
<rect x="570" y="928" width="1" height="3" fill="#000" />
<rect x="634" y="928" width="1" height="3" fill="#000" />
<rect x="698" y="928" width="1" height="3" fill="#000" />
<rect x="762" y="928" width="1" height="3" fill="#000" />
<rect x="826" y="928" width="1" height="3" fill="#000" />
<rect x="890" y="928" width="1" height="3" fill="#000" />
<rect x="954" y="928" width="1" height="3" fill="#000" />
<rect x="1018" y="928" width="1" height="3" fill="#000" />
<rect x="1082" y="928" width="1" height="3" fill="#000" />
<rect x="1146" y="928" width="1" height="3" fill="#000" />
<rect x="1210" y="928" width="1" height="3" fill="#000" />
<rect x="1274" y="928" width="1" height="3" fill="#000" />
<rect x="1338" y="928" width="1" height="3" fill="#000" />
<rect x="1402" y="928" width="1" height="3" fill="#000" />
<rect x="1466" y="928" width="1" height="3" fill="#000" />
</g>
<text x="56.58" y="940" font-size="9.3" fill="#000" textLength="58.49" lengthAdjust="spacingAndGlyphs" font-family="DejaVu Sans Condensed, sans-serif" >26 May 04:00</text>
<text x="120.58" y="940" font-size="9.3" fill="#000" textLength="58.49" lengthAdjust="spacingAndGlyphs" font-family="DejaVu Sans Condensed, sans-serif" >27 May 12:00</text>
<text x="184.56" y="940" font-size="9.3" fill="#000" textLength="58.51" lengthAdjust="spacingAndGlyphs" font-family="DejaVu Sans Condensed, sans-serif" >30 May 23:00</text>
<text x="248.27" y="940" font-size="9.3" fill="#000" textLength="49.10" lengthAdjust="spacingAndGlyphs" font-family="DejaVu Sans Condensed, sans-serif" >1 Jun 04:00</text>
<text x="312.58" y="940" font-size="9.3" fill="#000" textLength="48.78" lengthAdjust="spacingAndGlyphs" font-family="DejaVu Sans Condensed, sans-serif" >2 Jun 12:00</text>
<text x="376.56" y="940" font-size="9.3" fill="#000" textLength="48.80" lengthAdjust="spacingAndGlyphs" font-family="DejaVu Sans Condensed, sans-serif" >3 Jun 20:00</text>
<text x="440.51" y="940" font-size="9.3" fill="#000" textLength="48.85" lengthAdjust="spacingAndGlyphs" font-family="DejaVu Sans Condensed, sans-serif" >7 Jun 04:00</text>
<text x="504.63" y="940" font-size="9.3" fill="#000" textLength="48.73" lengthAdjust="spacingAndGlyphs" font-family="DejaVu Sans Condensed, sans-serif" >8 Jun 12:00</text>
<text x="568.66" y="940" font-size="9.3" fill="#000" textLength="48.71" lengthAdjust="spacingAndGlyphs" font-family="DejaVu Sans Condensed, sans-serif" >9 Jun 20:00</text>
<text x="632.28" y="940" font-size="9.3" fill="#000" textLength="54.18" lengthAdjust="spacingAndGlyphs" font-family="DejaVu Sans Condensed, sans-serif" >11 Jun 04:00</text>
<text x="696.28" y="940" font-size="9.3" fill="#000" textLength="54.18" lengthAdjust="spacingAndGlyphs" font-family="DejaVu Sans Condensed, sans-serif" >14 Jun 12:00</text>
<text x="760.28" y="940" font-size="9.3" fill="#000" textLength="54.18" lengthAdjust="spacingAndGlyphs" font-family="DejaVu Sans Condensed, sans-serif" >15 Jun 20:00</text>
<text x="824.28" y="940" font-size="9.3" fill="#000" textLength="54.18" lengthAdjust="spacingAndGlyphs" font-family="DejaVu Sans Condensed, sans-serif" >17 Jun 04:00</text>
<text x="888.28" y="940" font-size="9.3" fill="#000" textLength="54.18" lengthAdjust="spacingAndGlyphs" font-family="DejaVu Sans Condensed, sans-serif" >18 Jun 12:00</text>
<text x="952.59" y="940" font-size="9.3" fill="#000" textLength="53.87" lengthAdjust="spacingAndGlyphs" font-family="DejaVu Sans Condensed, sans-serif" >21 Jun 20:00</text>
<text x="1016.59" y="940" font-size="9.3" fill="#000" textLength="53.87" lengthAdjust="spacingAndGlyphs" font-family="DejaVu Sans Condensed, sans-serif" >23 Jun 04:00</text>
<text x="1080.59" y="940" font-size="9.3" fill="#000" textLength="53.87" lengthAdjust="spacingAndGlyphs" font-family="DejaVu Sans Condensed, sans-serif" >24 Jun 12:00</text>
<text x="1144.59" y="940" font-size="9.3" fill="#000" textLength="53.87" lengthAdjust="spacingAndGlyphs" font-family="DejaVu Sans Condensed, sans-serif" >27 Jun 23:00</text>
<text x="1208.59" y="940" font-size="9.3" fill="#000" textLength="53.87" lengthAdjust="spacingAndGlyphs" font-family="DejaVu Sans Condensed, sans-serif" >29 Jun 04:00</text>
<text x="1272.56" y="940" font-size="9.3" fill="#000" textLength="53.89" lengthAdjust="spacingAndGlyphs" font-family="DejaVu Sans Condensed, sans-serif" >30 Jun 12:00</text>
<text x="1336.28" y="940" font-size="9.3" fill="#000" textLength="45.68" lengthAdjust="spacingAndGlyphs" font-family="DejaVu Sans Condensed, sans-serif" >1 Jul 20:00</text>
<text x="1400.54" y="940" font-size="9.3" fill="#000" textLength="45.41" lengthAdjust="spacingAndGlyphs" font-family="DejaVu Sans Condensed, sans-serif" >5 Jul 04:00</text>
<text x="1464.61" y="940" font-size="9.3" fill="#000" textLength="45.34" lengthAdjust="spacingAndGlyphs" font-family="DejaVu Sans Condensed, sans-serif" >6 Jul 12:00</text>
<text x="-5.26" y="940" font-size="9.3" font-family="DejaVu Sans Condensed, sans-serif" fill="#000" textLength="53.00" lengthAdjust="spacingAndGlyphs">24 May 2021</text>
<text x="66.82" y="594" font-size="9.3" fill="#000" textLength="65.39" lengthAdjust="spacingAndGlyphs" font-family="DejaVu Sans Condensed, sans-serif" >-0.0981 -0.0302</text>
<text x="-2.05" y="594" font-size="9.3" fill="#000" textLength="66.18" lengthAdjust="spacingAndGlyphs" font-family="DejaVu Sans Condensed, sans-serif" >MACD(12,26,9)</text>
<text x="32.38" y="766" font-size="9.3" fill="#000" textLength="34.02" lengthAdjust="spacingAndGlyphs" font-family="DejaVu Sans Condensed, sans-serif" >34.5067</text>
<text x="-2.37" y="766" font-size="9.3" fill="#000" textLength="32.82" lengthAdjust="spacingAndGlyphs" font-family="DejaVu Sans Condensed, sans-serif" >RSI(14)</text>
<polygon points="0,32 4.5,37.5 0,37.5" fill="#000"/>
<text x="8.55" y="38" font-size="9.3" fill="#000" textLength="54.78" lengthAdjust="spacingAndGlyphs" font-family="DejaVu Sans Condensed, sans-serif" >USDJPY-,H4</text>
<text x="68.72" y="38" font-size="9.3" fill="#000" textLength="141.57" lengthAdjust="spacingAndGlyphs" font-family="DejaVu Sans Condensed, sans-serif" >110.629 110.650 110.605 110.607</text>
<rect x="0" y="46" width="49" height="24" fill="url(#gsell)" />
<rect x="0" y="46" width="49" height="1" fill="#c00000" />
<rect x="48" y="46" width="1" height="24" fill="#c00000" />
<rect x="164" y="46" width="52" height="24" fill="url(#gsell)" />
<rect x="164" y="46" width="52" height="1" fill="#c00000" />
<rect x="164" y="46" width="1" height="24" fill="#c00000" />
<rect x="215" y="46" width="1" height="24" fill="#c00000" />
<rect x="0" y="70" width="106" height="33" fill="url(#gprice)" />
<rect x="105" y="70" width="1" height="33" fill="#a00000" />
<rect x="0" y="102" width="106" height="1" fill="#a00000" />
<rect x="108" y="70" width="108" height="33" fill="url(#gprice)" />
<rect x="108" y="70" width="1" height="33" fill="#a00000" />
<rect x="215" y="70" width="1" height="33" fill="#a00000" />
<rect x="108" y="102" width="108" height="1" fill="#a00000" />
<rect x="1" y="69" width="44" height="1" fill="#8a0000" />
<rect x="1" y="70" width="44" height="1" fill="#ff7070" />
<rect x="168" y="69" width="44" height="1" fill="#8a0000" />
<rect x="168" y="70" width="44" height="1" fill="#ff7070" />
<rect x="51" y="46" width="111" height="22" fill="#fff" stroke="#a9abb0" stroke-width="1" shape-rendering="crispEdges"/>
<rect x="52.5" y="47.5" width="20" height="19" fill="url(#gbtn)" />
<rect x="72" y="47" width="1" height="20" fill="#a9abb0" />
<rect x="141" y="47" width="20" height="20" fill="url(#gbtn)" />
<rect x="140" y="47" width="1" height="20" fill="#a9abb0" />
<polygon points="59,55 64,55 61.5,58" fill="#3a55b8"/>
<polygon points="148,58 153,58 150.5,55" fill="#3a55b8"/>
<text x="8.76" y="62" font-size="12.32876712328767" fill="#fff" textLength="26.29" lengthAdjust="spacingAndGlyphs" font-family="DejaVu Sans Condensed, sans-serif" >SELL</text>
<text x="176.44" y="62" font-size="12.32876712328767" fill="#fff" textLength="24.23" lengthAdjust="spacingAndGlyphs" font-family="DejaVu Sans Condensed, sans-serif" >BUY</text>
<text x="112.60" y="61" font-size="12.32876712328767" fill="#000" textLength="24.75" lengthAdjust="spacingAndGlyphs" font-family="DejaVu Sans Condensed, sans-serif" >1.00</text>
<text x="19.20" y="98" font-size="12.602739726027396" fill="#fff" textLength="22.00" lengthAdjust="spacingAndGlyphs" font-weight="bold" font-family="DejaVu Sans Condensed, sans-serif" >110</text>
<text x="44.09" y="98" font-size="31.68316831683168" fill="#fff" textLength="36.83" lengthAdjust="spacingAndGlyphs" font-family="DejaVu Sans Condensed, sans-serif" >60</text>
<text x="83.31" y="81.7" font-size="12.054794520547947" fill="#fff" textLength="8.22" lengthAdjust="spacingAndGlyphs" font-weight="bold" font-family="DejaVu Sans Condensed, sans-serif" >7</text>
<text x="129.34" y="98" font-size="12.602739726027396" fill="#fff" textLength="21.25" lengthAdjust="spacingAndGlyphs" font-weight="bold" font-family="DejaVu Sans Condensed, sans-serif" >110</text>
<text x="154.55" y="98" font-size="31.68316831683168" fill="#fff" textLength="37.47" lengthAdjust="spacingAndGlyphs" font-family="DejaVu Sans Condensed, sans-serif" >65</text>
<text x="194.02" y="81.4" font-size="10.1010101010101" fill="#fff" textLength="8.78" lengthAdjust="spacingAndGlyphs" font-weight="bold" font-family="DejaVu Sans Condensed, sans-serif" >2</text>
</svg>
</body></html>
